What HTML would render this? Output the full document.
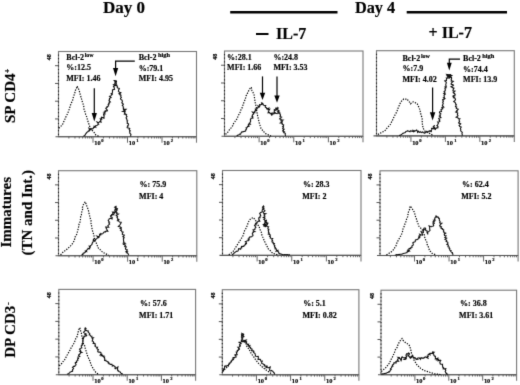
<!DOCTYPE html><html><head><meta charset="utf-8"><style>html,body{margin:0;padding:0;background:#fff;}svg{display:block;} text{stroke:#000;stroke-width:0.18px;paint-order:stroke;}</style></head><body><svg width="520" height="385" viewBox="0 0 520 385">
<defs><filter id="bl" color-interpolation-filters="sRGB" x="0" y="0" width="520" height="385" filterUnits="userSpaceOnUse"><feConvolveMatrix order="3" kernelMatrix="0.0113 0.0838 0.0113 0.0838 0.6193 0.0838 0.0113 0.0838 0.0113" divisor="1" edgeMode="none"/></filter></defs>
<rect width="520" height="385" fill="#fff"/>
<g filter="url(#bl)">
<g font-family='"Liberation Serif", serif' fill="#000">
<text x="123.9" y="13" font-size="17" font-weight="bold" text-anchor="middle">Day 0</text>
<text x="375.1" y="12.6" font-size="16.3" font-weight="bold" text-anchor="middle">Day 4</text>
<rect x="256" y="33" width="12.5" height="2" fill="#000"/>
<text x="276" y="39.2" font-size="16" font-weight="bold">IL-7</text>
<text x="428.6" y="38" font-size="16" font-weight="bold">+ IL-7</text>
<text x="0" y="0" font-size="14.5" font-weight="bold" text-anchor="middle" transform="translate(14.5 95.8) rotate(-90) scale(1.035 1)">SP CD4<tspan font-size="8" dy="-4.6" dx="0.3">+</tspan></text>
<text x="0" y="0" font-size="14.5" font-weight="bold" text-anchor="middle" transform="translate(11.2 212.3) rotate(-90) scale(1.035 1)">Immatures</text>
<text x="0" y="0" font-size="14.5" font-weight="bold" text-anchor="middle" transform="translate(32.2 212.8) rotate(-90) scale(1.035 1)">(TN and Int.)</text>
<text x="0" y="0" font-size="14.5" font-weight="bold" text-anchor="middle" transform="translate(15.2 330) rotate(-90) scale(1.035 1)">DP CD3<tspan font-size="8" dy="-4.6" dx="0.8">-</tspan></text>
</g>
<line x1="230.2" y1="12.2" x2="337.5" y2="12.2" stroke="#000" stroke-width="2.4"/>
<line x1="406.7" y1="12.2" x2="507" y2="12.2" stroke="#000" stroke-width="2.4"/>
<g><rect x="58.5" y="51.5" width="138.00" height="85.20" fill="none" stroke="#777" stroke-width="1.1"/><line x1="58.5" y1="54.5" x2="58.5" y2="136.7" stroke="#222" stroke-width="1.1" stroke-dasharray="1.2 2.4"/><line x1="55.5" y1="136.7" x2="196.5" y2="136.7" stroke="#555" stroke-width="1.1"/><line x1="196.5" y1="136.7" x2="196.5" y2="142.7" stroke="#777" stroke-width="1.1"/><line x1="68.89" y1="136.7" x2="68.89" y2="138.5" stroke="#555" stroke-width="0.9"/><line x1="74.96" y1="136.7" x2="74.96" y2="138.5" stroke="#555" stroke-width="0.9"/><line x1="79.27" y1="136.7" x2="79.27" y2="138.5" stroke="#555" stroke-width="0.9"/><line x1="82.61" y1="136.7" x2="82.61" y2="138.5" stroke="#555" stroke-width="0.9"/><line x1="85.35" y1="136.7" x2="85.35" y2="138.5" stroke="#555" stroke-width="0.9"/><line x1="87.66" y1="136.7" x2="87.66" y2="138.5" stroke="#555" stroke-width="0.9"/><line x1="89.66" y1="136.7" x2="89.66" y2="138.5" stroke="#555" stroke-width="0.9"/><line x1="91.42" y1="136.7" x2="91.42" y2="138.5" stroke="#555" stroke-width="0.9"/><line x1="103.39" y1="136.7" x2="103.39" y2="138.5" stroke="#555" stroke-width="0.9"/><line x1="109.46" y1="136.7" x2="109.46" y2="138.5" stroke="#555" stroke-width="0.9"/><line x1="113.77" y1="136.7" x2="113.77" y2="138.5" stroke="#555" stroke-width="0.9"/><line x1="117.11" y1="136.7" x2="117.11" y2="138.5" stroke="#555" stroke-width="0.9"/><line x1="119.85" y1="136.7" x2="119.85" y2="138.5" stroke="#555" stroke-width="0.9"/><line x1="122.16" y1="136.7" x2="122.16" y2="138.5" stroke="#555" stroke-width="0.9"/><line x1="124.16" y1="136.7" x2="124.16" y2="138.5" stroke="#555" stroke-width="0.9"/><line x1="125.92" y1="136.7" x2="125.92" y2="138.5" stroke="#555" stroke-width="0.9"/><line x1="137.89" y1="136.7" x2="137.89" y2="138.5" stroke="#555" stroke-width="0.9"/><line x1="143.96" y1="136.7" x2="143.96" y2="138.5" stroke="#555" stroke-width="0.9"/><line x1="148.27" y1="136.7" x2="148.27" y2="138.5" stroke="#555" stroke-width="0.9"/><line x1="151.61" y1="136.7" x2="151.61" y2="138.5" stroke="#555" stroke-width="0.9"/><line x1="154.35" y1="136.7" x2="154.35" y2="138.5" stroke="#555" stroke-width="0.9"/><line x1="156.66" y1="136.7" x2="156.66" y2="138.5" stroke="#555" stroke-width="0.9"/><line x1="158.66" y1="136.7" x2="158.66" y2="138.5" stroke="#555" stroke-width="0.9"/><line x1="160.42" y1="136.7" x2="160.42" y2="138.5" stroke="#555" stroke-width="0.9"/><line x1="172.39" y1="136.7" x2="172.39" y2="138.5" stroke="#555" stroke-width="0.9"/><line x1="178.46" y1="136.7" x2="178.46" y2="138.5" stroke="#555" stroke-width="0.9"/><line x1="182.77" y1="136.7" x2="182.77" y2="138.5" stroke="#555" stroke-width="0.9"/><line x1="186.11" y1="136.7" x2="186.11" y2="138.5" stroke="#555" stroke-width="0.9"/><line x1="188.85" y1="136.7" x2="188.85" y2="138.5" stroke="#555" stroke-width="0.9"/><line x1="191.16" y1="136.7" x2="191.16" y2="138.5" stroke="#555" stroke-width="0.9"/><line x1="193.16" y1="136.7" x2="193.16" y2="138.5" stroke="#555" stroke-width="0.9"/><line x1="194.92" y1="136.7" x2="194.92" y2="138.5" stroke="#555" stroke-width="0.9"/><line x1="93.00" y1="136.7" x2="93.00" y2="142.7" stroke="#666" stroke-width="1"/><text x="94.20" y="145.30" font-size="6.4" font-weight="bold" font-family='"Liberation Serif", serif'>10<tspan font-size="4.6" dy="-3" dx="0.6">0</tspan></text><line x1="127.50" y1="136.7" x2="127.50" y2="142.7" stroke="#666" stroke-width="1"/><text x="128.70" y="145.30" font-size="6.4" font-weight="bold" font-family='"Liberation Serif", serif'>10<tspan font-size="4.6" dy="-3" dx="1.2">1</tspan></text><line x1="162.00" y1="136.7" x2="162.00" y2="142.7" stroke="#666" stroke-width="1"/><text x="163.20" y="145.30" font-size="6.4" font-weight="bold" font-family='"Liberation Serif", serif'>10<tspan font-size="4.6" dy="-3" dx="1.2">2</tspan></text><line x1="55.0" y1="118.95" x2="58.5" y2="118.95" stroke="#555" stroke-width="1"/><line x1="55.0" y1="101.20" x2="58.5" y2="101.20" stroke="#555" stroke-width="1"/><line x1="55.0" y1="83.45" x2="58.5" y2="83.45" stroke="#555" stroke-width="1"/><line x1="55.0" y1="65.70" x2="58.5" y2="65.70" stroke="#555" stroke-width="1"/><text x="51.0" y="57.3" font-size="6" font-weight="bold" text-anchor="middle" font-family='"Liberation Serif", serif' transform="rotate(-90 51.0 57.3)">48</text><polyline points="58.75,128.17 60.22,127.00 61.47,125.61 62.67,124.18 63.34,122.43 64.26,120.81 64.97,119.07 65.66,117.36 66.52,115.79 67.27,114.16 68.05,112.55 68.52,110.81 69.24,109.18 69.81,107.54 70.13,105.81 70.90,104.23 71.53,102.61 72.46,101.09 72.84,99.37 73.20,97.67 73.85,96.06 74.26,94.37 74.83,92.73 75.15,91.02 75.89,89.36 76.76,87.75 77.09,86.08 77.84,87.72 78.75,89.29 79.28,91.01 79.78,92.67 80.17,94.36 80.70,96.01 81.07,97.71 81.69,99.33 82.13,100.97 82.48,102.64 83.16,104.22 83.59,105.87 84.03,107.51 84.04,109.28 84.69,110.89 85.13,112.57 85.61,114.24 86.25,115.85 87.04,117.43 87.26,119.19 87.85,120.85 88.20,122.57 88.97,124.17 89.44,125.81 90.29,127.64 91.23,129.41 92.65,130.86 93.85,132.14 94.86,133.59 95.89,135.01 97.55,135.71 99.20,136.40" fill="none" stroke="#000" stroke-width="1.2" stroke-dasharray="1.3 1.3"/><polyline points="83.45,136.46 83.86,135.98 84.34,135.59 84.79,135.16 85.35,134.86 85.46,134.06 85.96,133.69 86.34,133.18 86.65,132.61 87.10,132.17 87.63,131.84 88.19,131.52 88.41,130.86 89.34,130.95 89.61,130.28 89.05,128.38 90.87,129.98 91.17,129.35 91.48,128.74 92.31,128.87 92.89,128.65 93.35,128.25 93.49,127.39 94.28,127.47 94.23,126.26 95.79,127.18 95.56,125.73 96.30,125.57 97.00,125.35 97.69,125.07 97.91,124.41 98.65,124.15 97.02,122.00 98.58,122.41 99.31,122.16 99.68,121.61 101.09,121.90 100.48,120.62 101.02,120.18 100.36,118.95 101.70,119.03 101.30,117.97 101.46,117.28 103.96,118.14 104.04,117.39 103.93,116.52 104.26,115.92 103.48,114.91 103.66,114.30 104.80,114.07 103.74,112.94 105.07,112.80 104.39,111.83 105.51,111.59 105.25,110.79 107.13,110.87 107.40,110.29 106.70,109.31 105.80,108.25 106.39,107.80 107.18,107.47 106.93,106.75 107.80,106.37 108.64,105.97 108.35,105.24 108.14,104.53 108.99,104.14 108.67,103.40 109.44,102.98 109.04,102.21 110.30,101.95 109.57,101.08 108.98,100.26 109.67,99.82 109.54,99.10 109.47,98.39 110.12,97.93 111.03,97.57 109.60,96.37 110.67,96.07 111.08,95.53 111.35,94.94 112.19,94.55 111.26,93.53 112.38,93.24 112.30,92.56 112.55,91.99 112.49,91.35 112.48,90.73 112.44,90.09 113.13,89.61 114.54,89.26 114.35,88.60 114.25,87.96 114.11,87.31 113.46,86.55 114.07,86.05 115.31,85.67 113.55,84.70 114.50,84.27 114.99,83.74 114.74,83.07 115.08,82.51 115.67,82.00 116.48,81.54 116.20,80.86 113.64,80.54 114.68,80.84 114.84,81.48 115.47,81.94 115.75,82.54 116.48,82.97 116.15,83.81 115.73,84.66 116.78,84.97 116.99,85.58 116.98,86.28 117.51,86.77 117.25,87.56 117.76,88.07 118.97,88.31 119.40,88.84 118.58,89.84 118.56,90.55 118.38,91.21 118.97,91.68 119.27,92.23 120.63,92.52 119.20,93.50 120.38,93.83 119.56,94.66 120.84,94.96 121.01,95.55 120.64,96.27 121.00,96.80 121.39,97.33 120.57,98.16 120.57,98.78 120.86,99.34 121.52,99.79 122.14,100.26 122.20,100.85 122.38,101.43 122.24,102.12 121.81,102.89 122.41,103.34 123.11,103.77 123.34,104.34 122.31,105.29 122.85,105.77 123.08,106.34 123.25,106.93 123.23,107.58 123.63,108.09 123.21,108.86 123.44,109.39 125.96,109.38 125.07,110.23 122.91,111.40 125.11,111.47 124.95,112.14 124.39,112.90 125.03,113.37 124.45,114.14 126.07,114.36 126.65,114.84 126.24,115.57 126.57,116.11 126.99,116.63 126.16,117.46 126.20,118.07 126.49,118.63 126.94,119.14 126.75,119.81 127.04,120.36 127.63,120.84 127.10,121.60 127.14,122.21 127.44,122.76 127.24,123.44 128.44,123.76 128.29,124.43 128.59,124.98 127.58,125.85 127.92,126.40 127.08,127.23 127.29,127.80 128.70,128.07 129.70,128.45 129.08,129.23 129.48,129.77 129.61,130.37 130.30,130.85 129.59,131.63 129.74,132.23 129.80,132.85 129.97,133.44 130.49,133.95 130.96,134.48 130.70,135.16 130.76,135.78 130.80,136.37" fill="none" stroke="#111" stroke-width="1.1" stroke-linejoin="miter"/><text x="66.3" y="59.7" font-size="8" font-weight="bold" font-family='"Liberation Serif", serif'>Bcl-2<tspan font-size="6.0" dy="-2.6" dx="0.6">low</tspan></text><text x="66.3" y="70.3" font-size="8" font-weight="bold" font-family='"Liberation Serif", serif'>%:12.5</text><text x="66.3" y="80.5" font-size="8" font-weight="bold" font-family='"Liberation Serif", serif'>MFI: 1.46</text><text x="138.7" y="59.5" font-size="8" font-weight="bold" font-family='"Liberation Serif", serif'>Bcl-2<tspan font-size="6.4" dy="-2.6" dx="1.4">high</tspan></text><text x="138.7" y="70.6" font-size="8" font-weight="bold" font-family='"Liberation Serif", serif'>%:79.1</text><text x="138.7" y="80.9" font-size="8" font-weight="bold" font-family='"Liberation Serif", serif'>MFI: 4.95</text><polyline points="94.30,88.20 94.30,114.00" fill="none" stroke="#000" stroke-width="1.2"/><polygon points="91.70,113.00 96.90,113.00 94.30,121.40" fill="#000"/><polyline points="134.80,61.20 115.60,61.20 115.60,69.00" fill="none" stroke="#000" stroke-width="1.2"/><polygon points="113.00,68.00 118.20,68.00 115.60,76.30" fill="#000"/></g>
<g><rect x="224.5" y="51.0" width="138.50" height="85.30" fill="none" stroke="#777" stroke-width="1.1"/><line x1="224.5" y1="54.0" x2="224.5" y2="136.3" stroke="#222" stroke-width="1.1" stroke-dasharray="1.2 2.4"/><line x1="221.5" y1="136.3" x2="363.0" y2="136.3" stroke="#555" stroke-width="1.1"/><line x1="363.0" y1="136.3" x2="363.0" y2="142.3" stroke="#777" stroke-width="1.1"/><line x1="234.92" y1="136.3" x2="234.92" y2="138.10000000000002" stroke="#555" stroke-width="0.9"/><line x1="241.02" y1="136.3" x2="241.02" y2="138.10000000000002" stroke="#555" stroke-width="0.9"/><line x1="245.35" y1="136.3" x2="245.35" y2="138.10000000000002" stroke="#555" stroke-width="0.9"/><line x1="248.70" y1="136.3" x2="248.70" y2="138.10000000000002" stroke="#555" stroke-width="0.9"/><line x1="251.44" y1="136.3" x2="251.44" y2="138.10000000000002" stroke="#555" stroke-width="0.9"/><line x1="253.76" y1="136.3" x2="253.76" y2="138.10000000000002" stroke="#555" stroke-width="0.9"/><line x1="255.77" y1="136.3" x2="255.77" y2="138.10000000000002" stroke="#555" stroke-width="0.9"/><line x1="257.54" y1="136.3" x2="257.54" y2="138.10000000000002" stroke="#555" stroke-width="0.9"/><line x1="269.55" y1="136.3" x2="269.55" y2="138.10000000000002" stroke="#555" stroke-width="0.9"/><line x1="275.65" y1="136.3" x2="275.65" y2="138.10000000000002" stroke="#555" stroke-width="0.9"/><line x1="279.97" y1="136.3" x2="279.97" y2="138.10000000000002" stroke="#555" stroke-width="0.9"/><line x1="283.33" y1="136.3" x2="283.33" y2="138.10000000000002" stroke="#555" stroke-width="0.9"/><line x1="286.07" y1="136.3" x2="286.07" y2="138.10000000000002" stroke="#555" stroke-width="0.9"/><line x1="288.39" y1="136.3" x2="288.39" y2="138.10000000000002" stroke="#555" stroke-width="0.9"/><line x1="290.39" y1="136.3" x2="290.39" y2="138.10000000000002" stroke="#555" stroke-width="0.9"/><line x1="292.17" y1="136.3" x2="292.17" y2="138.10000000000002" stroke="#555" stroke-width="0.9"/><line x1="304.17" y1="136.3" x2="304.17" y2="138.10000000000002" stroke="#555" stroke-width="0.9"/><line x1="310.27" y1="136.3" x2="310.27" y2="138.10000000000002" stroke="#555" stroke-width="0.9"/><line x1="314.60" y1="136.3" x2="314.60" y2="138.10000000000002" stroke="#555" stroke-width="0.9"/><line x1="317.95" y1="136.3" x2="317.95" y2="138.10000000000002" stroke="#555" stroke-width="0.9"/><line x1="320.69" y1="136.3" x2="320.69" y2="138.10000000000002" stroke="#555" stroke-width="0.9"/><line x1="323.01" y1="136.3" x2="323.01" y2="138.10000000000002" stroke="#555" stroke-width="0.9"/><line x1="325.02" y1="136.3" x2="325.02" y2="138.10000000000002" stroke="#555" stroke-width="0.9"/><line x1="326.79" y1="136.3" x2="326.79" y2="138.10000000000002" stroke="#555" stroke-width="0.9"/><line x1="338.80" y1="136.3" x2="338.80" y2="138.10000000000002" stroke="#555" stroke-width="0.9"/><line x1="344.90" y1="136.3" x2="344.90" y2="138.10000000000002" stroke="#555" stroke-width="0.9"/><line x1="349.22" y1="136.3" x2="349.22" y2="138.10000000000002" stroke="#555" stroke-width="0.9"/><line x1="352.58" y1="136.3" x2="352.58" y2="138.10000000000002" stroke="#555" stroke-width="0.9"/><line x1="355.32" y1="136.3" x2="355.32" y2="138.10000000000002" stroke="#555" stroke-width="0.9"/><line x1="357.64" y1="136.3" x2="357.64" y2="138.10000000000002" stroke="#555" stroke-width="0.9"/><line x1="359.64" y1="136.3" x2="359.64" y2="138.10000000000002" stroke="#555" stroke-width="0.9"/><line x1="361.42" y1="136.3" x2="361.42" y2="138.10000000000002" stroke="#555" stroke-width="0.9"/><line x1="259.12" y1="136.3" x2="259.12" y2="142.3" stroke="#666" stroke-width="1"/><text x="260.32" y="144.90" font-size="6.4" font-weight="bold" font-family='"Liberation Serif", serif'>10<tspan font-size="4.6" dy="-3" dx="0.6">0</tspan></text><line x1="293.75" y1="136.3" x2="293.75" y2="142.3" stroke="#666" stroke-width="1"/><text x="294.95" y="144.90" font-size="6.4" font-weight="bold" font-family='"Liberation Serif", serif'>10<tspan font-size="4.6" dy="-3" dx="1.2">1</tspan></text><line x1="328.38" y1="136.3" x2="328.38" y2="142.3" stroke="#666" stroke-width="1"/><text x="329.57" y="144.90" font-size="6.4" font-weight="bold" font-family='"Liberation Serif", serif'>10<tspan font-size="4.6" dy="-3" dx="1.2">2</tspan></text><line x1="221.0" y1="118.53" x2="224.5" y2="118.53" stroke="#555" stroke-width="1"/><line x1="221.0" y1="100.76" x2="224.5" y2="100.76" stroke="#555" stroke-width="1"/><line x1="221.0" y1="82.99" x2="224.5" y2="82.99" stroke="#555" stroke-width="1"/><line x1="221.0" y1="65.22" x2="224.5" y2="65.22" stroke="#555" stroke-width="1"/><text x="217.0" y="56.8" font-size="6" font-weight="bold" text-anchor="middle" font-family='"Liberation Serif", serif' transform="rotate(-90 217.0 56.8)">48</text><polyline points="225.55,134.46 226.66,133.23 227.84,132.05 228.83,130.71 229.74,129.30 230.89,128.13 231.80,126.90 232.74,125.67 233.26,124.20 233.90,122.80 234.91,121.62 235.78,120.35 236.77,119.14 237.48,117.80 238.00,116.37 238.58,114.96 239.66,113.81 240.10,112.33 240.58,110.88 241.11,109.45 241.91,108.17 242.49,106.64 242.96,105.06 243.50,103.51 244.08,101.98 244.70,100.46 245.33,98.94 245.75,97.38 246.13,95.74 247.09,94.38 247.60,92.81 248.42,91.39 249.02,89.82 250.01,88.56 251.20,87.21 251.77,88.85 251.91,90.67 252.86,92.13 253.53,93.65 254.15,95.14 254.41,96.70 254.50,98.28 254.81,99.83 255.01,101.40 255.29,102.95 255.75,104.47 255.89,106.12 256.35,107.70 256.28,109.38 256.80,110.95 257.02,112.58 257.40,114.18 257.58,115.82 258.09,117.39 258.23,119.05 258.77,120.55 259.02,122.14 259.47,123.66 260.00,125.17 260.63,126.65 260.92,128.27 262.05,129.64 263.06,131.11 264.39,132.30 265.57,133.66 267.38,134.45 269.19,135.22 271.00,136.01" fill="none" stroke="#000" stroke-width="1.2" stroke-dasharray="1.3 1.3"/><polyline points="236.48,135.96 237.04,135.66 237.58,135.31 238.11,134.94 238.77,134.80 239.28,134.41 239.78,133.98 240.61,134.12 240.90,133.37 241.22,132.64 241.47,132.24 242.06,131.90 242.98,131.85 243.67,131.60 244.35,131.34 245.26,131.27 245.74,130.85 245.66,129.92 246.27,129.60 246.42,128.87 246.15,127.78 247.07,127.73 247.25,127.04 247.47,126.38 249.00,126.41 248.90,125.67 248.31,124.69 248.56,124.12 250.29,124.24 249.43,123.13 249.96,122.69 250.24,122.12 250.44,121.52 250.74,120.97 250.37,120.09 250.45,119.44 250.86,118.93 251.06,118.33 252.02,118.12 252.95,117.90 251.97,116.70 252.73,116.39 252.25,115.44 252.47,114.86 253.01,114.43 253.58,114.02 253.62,113.35 252.53,112.09 254.80,112.55 254.69,111.79 254.74,111.04 255.75,110.93 255.60,110.04 255.35,109.07 256.61,109.14 257.20,108.75 256.95,107.78 258.05,107.75 258.39,107.18 258.03,105.93 259.56,106.80 259.75,105.99 259.58,104.72 260.55,104.89 261.06,104.48 261.93,104.51 261.57,103.02 262.83,103.53 262.34,103.21 262.79,103.67 263.24,104.13 263.27,104.91 263.87,105.26 264.64,105.49 265.66,105.52 265.20,106.68 265.40,107.33 266.07,107.57 266.60,108.02 266.68,108.75 268.80,108.21 268.06,109.45 269.70,109.21 268.87,110.51 268.40,111.58 268.08,112.69 269.55,112.43 269.77,113.08 270.38,113.44 272.00,113.07 271.15,114.50 271.57,115.00 272.08,115.54 271.75,114.70 272.39,114.33 272.84,113.87 273.89,113.70 273.80,112.97 275.90,113.32 274.35,111.88 274.17,111.10 274.43,110.55 274.34,109.63 275.79,110.20 276.14,109.63 275.68,108.21 276.51,108.14 277.58,108.31 278.15,107.08 277.76,107.86 278.03,108.42 276.60,109.55 277.53,109.89 278.47,110.23 278.99,110.70 277.71,111.78 278.97,112.01 277.72,113.07 279.94,112.99 279.87,113.66 280.01,114.26 280.49,114.76 280.46,115.45 279.92,116.19 280.74,116.65 281.59,117.10 280.10,118.05 279.66,118.78 281.04,119.11 280.89,119.78 282.83,120.00 281.12,120.99 282.26,121.38 282.18,122.03 280.46,123.03 282.29,123.27 282.08,123.95 282.83,124.42 283.66,124.88 283.54,125.53 282.65,126.36 283.52,126.80 283.39,127.46 282.59,128.31 283.09,128.81 284.11,129.12 282.78,130.26 283.42,130.71 283.07,131.50 284.39,131.71 283.70,132.63 284.85,132.90 285.33,133.41 285.19,134.13 285.28,134.77 285.38,135.40 285.60,135.98" fill="none" stroke="#111" stroke-width="1.1" stroke-linejoin="miter"/><text x="227.1" y="60.0" font-size="8" font-weight="bold" font-family='"Liberation Serif", serif'>%:28.1</text><text x="227.1" y="70.0" font-size="8" font-weight="bold" font-family='"Liberation Serif", serif'>MFI: 1.66</text><text x="273.4" y="60.0" font-size="8" font-weight="bold" font-family='"Liberation Serif", serif'>%:24.8</text><text x="273.4" y="70.0" font-size="8" font-weight="bold" font-family='"Liberation Serif", serif'>MFI: 3.53</text><polyline points="262.50,76.40 262.50,93.50" fill="none" stroke="#000" stroke-width="1.2"/><polygon points="259.80,92.70 265.20,92.70 262.50,100.00" fill="#000"/><polyline points="277.00,76.40 277.00,96.00" fill="none" stroke="#000" stroke-width="1.2"/><polygon points="274.30,95.50 279.70,95.50 277.00,102.70" fill="#000"/></g>
<g><rect x="376.5" y="50.7" width="137.80" height="85.20" fill="none" stroke="#777" stroke-width="1.1"/><line x1="376.5" y1="53.7" x2="376.5" y2="135.9" stroke="#222" stroke-width="1.1" stroke-dasharray="1.2 2.4"/><line x1="373.5" y1="135.9" x2="514.3" y2="135.9" stroke="#555" stroke-width="1.1"/><line x1="514.3" y1="135.9" x2="514.3" y2="141.9" stroke="#777" stroke-width="1.1"/><line x1="386.87" y1="135.9" x2="386.87" y2="137.70000000000002" stroke="#555" stroke-width="0.9"/><line x1="392.94" y1="135.9" x2="392.94" y2="137.70000000000002" stroke="#555" stroke-width="0.9"/><line x1="397.24" y1="135.9" x2="397.24" y2="137.70000000000002" stroke="#555" stroke-width="0.9"/><line x1="400.58" y1="135.9" x2="400.58" y2="137.70000000000002" stroke="#555" stroke-width="0.9"/><line x1="403.31" y1="135.9" x2="403.31" y2="137.70000000000002" stroke="#555" stroke-width="0.9"/><line x1="405.61" y1="135.9" x2="405.61" y2="137.70000000000002" stroke="#555" stroke-width="0.9"/><line x1="407.61" y1="135.9" x2="407.61" y2="137.70000000000002" stroke="#555" stroke-width="0.9"/><line x1="409.37" y1="135.9" x2="409.37" y2="137.70000000000002" stroke="#555" stroke-width="0.9"/><line x1="421.32" y1="135.9" x2="421.32" y2="137.70000000000002" stroke="#555" stroke-width="0.9"/><line x1="427.39" y1="135.9" x2="427.39" y2="137.70000000000002" stroke="#555" stroke-width="0.9"/><line x1="431.69" y1="135.9" x2="431.69" y2="137.70000000000002" stroke="#555" stroke-width="0.9"/><line x1="435.03" y1="135.9" x2="435.03" y2="137.70000000000002" stroke="#555" stroke-width="0.9"/><line x1="437.76" y1="135.9" x2="437.76" y2="137.70000000000002" stroke="#555" stroke-width="0.9"/><line x1="440.06" y1="135.9" x2="440.06" y2="137.70000000000002" stroke="#555" stroke-width="0.9"/><line x1="442.06" y1="135.9" x2="442.06" y2="137.70000000000002" stroke="#555" stroke-width="0.9"/><line x1="443.82" y1="135.9" x2="443.82" y2="137.70000000000002" stroke="#555" stroke-width="0.9"/><line x1="455.77" y1="135.9" x2="455.77" y2="137.70000000000002" stroke="#555" stroke-width="0.9"/><line x1="461.84" y1="135.9" x2="461.84" y2="137.70000000000002" stroke="#555" stroke-width="0.9"/><line x1="466.14" y1="135.9" x2="466.14" y2="137.70000000000002" stroke="#555" stroke-width="0.9"/><line x1="469.48" y1="135.9" x2="469.48" y2="137.70000000000002" stroke="#555" stroke-width="0.9"/><line x1="472.21" y1="135.9" x2="472.21" y2="137.70000000000002" stroke="#555" stroke-width="0.9"/><line x1="474.51" y1="135.9" x2="474.51" y2="137.70000000000002" stroke="#555" stroke-width="0.9"/><line x1="476.51" y1="135.9" x2="476.51" y2="137.70000000000002" stroke="#555" stroke-width="0.9"/><line x1="478.27" y1="135.9" x2="478.27" y2="137.70000000000002" stroke="#555" stroke-width="0.9"/><line x1="490.22" y1="135.9" x2="490.22" y2="137.70000000000002" stroke="#555" stroke-width="0.9"/><line x1="496.29" y1="135.9" x2="496.29" y2="137.70000000000002" stroke="#555" stroke-width="0.9"/><line x1="500.59" y1="135.9" x2="500.59" y2="137.70000000000002" stroke="#555" stroke-width="0.9"/><line x1="503.93" y1="135.9" x2="503.93" y2="137.70000000000002" stroke="#555" stroke-width="0.9"/><line x1="506.66" y1="135.9" x2="506.66" y2="137.70000000000002" stroke="#555" stroke-width="0.9"/><line x1="508.96" y1="135.9" x2="508.96" y2="137.70000000000002" stroke="#555" stroke-width="0.9"/><line x1="510.96" y1="135.9" x2="510.96" y2="137.70000000000002" stroke="#555" stroke-width="0.9"/><line x1="512.72" y1="135.9" x2="512.72" y2="137.70000000000002" stroke="#555" stroke-width="0.9"/><line x1="410.95" y1="135.9" x2="410.95" y2="141.9" stroke="#666" stroke-width="1"/><text x="412.15" y="144.50" font-size="6.4" font-weight="bold" font-family='"Liberation Serif", serif'>10<tspan font-size="4.6" dy="-3" dx="0.6">0</tspan></text><line x1="445.40" y1="135.9" x2="445.40" y2="141.9" stroke="#666" stroke-width="1"/><text x="446.60" y="144.50" font-size="6.4" font-weight="bold" font-family='"Liberation Serif", serif'>10<tspan font-size="4.6" dy="-3" dx="1.2">1</tspan></text><line x1="479.85" y1="135.9" x2="479.85" y2="141.9" stroke="#666" stroke-width="1"/><text x="481.05" y="144.50" font-size="6.4" font-weight="bold" font-family='"Liberation Serif", serif'>10<tspan font-size="4.6" dy="-3" dx="1.2">2</tspan></text><polyline points="377.82,134.43 379.30,133.77 380.70,132.96 382.11,132.15 383.60,131.50 384.95,130.56 386.08,129.38 387.02,128.02 388.12,126.82 389.32,125.76 390.27,124.50 390.98,123.11 391.66,121.71 392.40,120.34 393.21,119.00 393.73,117.52 394.42,116.11 395.12,114.71 396.01,113.39 396.50,111.89 397.22,110.50 397.61,108.93 398.42,107.55 399.04,106.09 399.57,104.58 400.23,103.14 401.01,101.81 402.37,100.27 403.80,98.99 405.75,99.16 407.30,99.03 408.18,100.69 409.53,102.09 410.55,103.77 411.91,102.64 413.34,101.82 415.31,102.78 417.22,103.73 417.91,105.43 418.78,107.04 419.47,108.73 420.31,110.38 420.20,112.06 420.72,113.61 421.05,115.21 421.67,116.75 422.08,118.33 422.33,119.96 422.22,121.54 422.27,123.10 422.48,124.64 422.84,126.15 422.73,127.84 424.02,129.59 425.04,131.40 426.60,132.18 428.23,132.76 429.80,133.49 431.68,134.53 433.60,135.50" fill="none" stroke="#000" stroke-width="1.2" stroke-dasharray="1.3 1.3"/><polyline points="399.01,135.62 399.58,135.29 400.33,135.30 400.84,134.86 401.38,134.46 401.96,134.17 402.44,133.67 402.95,133.22 403.68,133.20 404.16,132.70 404.86,132.77 405.43,132.36 405.90,131.47 406.52,131.26 407.19,131.29 407.71,130.65 408.51,131.25 409.17,131.22 409.96,131.75 410.46,130.86 411.07,130.89 411.73,131.30 412.36,131.47 412.85,130.46 413.59,131.58 414.08,130.61 414.78,131.35 415.30,130.62 415.96,130.47 416.67,130.03 417.19,130.63 417.52,132.28 418.36,131.18 418.82,132.09 419.42,132.31 420.18,131.57 420.69,132.22 421.26,132.63 422.07,132.10 422.78,131.97 423.26,132.73 424.05,132.75 424.79,133.31 425.30,132.72 425.73,131.78 426.37,131.87 426.88,131.29 427.64,131.93 428.28,132.02 428.78,131.42 429.23,130.85 430.06,131.47 430.51,130.86 431.33,131.44 431.34,130.46 431.64,129.88 431.73,129.23 431.61,128.48 434.18,128.80 434.44,128.21 433.19,127.02 433.90,126.61 434.57,125.32 433.38,126.59 433.31,127.30 434.38,127.45 434.89,127.87 434.86,128.56 434.91,129.22 435.40,129.50 435.56,128.67 436.25,128.38 436.72,127.88 437.92,127.80 437.84,127.14 438.02,126.54 436.89,125.63 437.52,125.14 437.80,124.57 437.91,123.95 438.32,123.41 438.42,122.79 437.72,121.98 439.29,121.72 439.85,121.22 439.14,120.41 439.81,119.93 439.06,119.10 438.71,118.38 439.43,117.91 440.94,117.64 440.38,116.86 439.33,116.02 440.30,115.59 440.11,114.94 440.03,114.31 440.82,113.85 439.70,113.02 439.41,112.35 439.63,111.78 441.52,111.52 441.49,110.90 441.08,110.21 440.98,109.58 441.95,109.15 442.73,108.68 441.68,107.87 442.13,107.34 443.78,107.04 443.15,106.31 442.40,105.56 442.71,105.00 442.72,104.39 443.19,103.86 443.19,103.25 442.69,102.54 442.88,101.97 443.35,101.44 442.84,100.74 443.28,100.20 442.80,99.51 444.21,99.13 444.92,98.64 443.53,97.79 444.37,97.32 444.22,96.68 444.20,96.06 444.02,95.42 444.40,94.87 445.09,94.37 443.83,93.55 445.06,93.14 444.62,92.45 443.99,91.73 444.59,91.22 445.31,90.73 445.10,90.08 445.37,89.51 445.09,88.85 444.93,88.21 446.02,87.78 445.08,87.01 446.20,86.58 446.15,85.96 445.78,85.29 445.78,84.67 445.80,84.06 446.05,83.49 446.21,82.90 446.28,82.30 445.16,81.46 444.79,80.77 446.43,80.48 446.34,79.84 446.44,79.25 446.83,78.71 446.39,78.00 448.14,77.73 447.70,77.03 447.53,76.38 446.97,75.65 448.20,75.27 448.54,74.73 446.81,74.45 447.24,74.94 448.63,75.07 449.49,75.40 448.19,76.54 449.27,76.78 449.38,77.39 449.41,77.97 450.01,77.51 450.34,76.98 449.50,76.11 449.63,75.51 449.06,74.72 450.47,74.50 450.65,75.09 451.82,75.52 450.37,76.36 450.70,76.93 451.56,77.41 451.48,78.03 451.64,78.62 451.28,79.29 451.17,79.93 451.73,80.45 451.29,81.14 453.27,81.44 452.40,82.19 451.53,82.94 451.13,83.65 451.20,84.27 452.55,84.64 453.47,85.10 452.92,85.84 451.07,86.83 451.96,87.29 452.98,87.73 454.00,88.17 453.16,88.97 453.39,89.56 452.90,90.28 453.04,90.89 454.87,91.18 454.01,91.98 453.22,92.76 453.99,93.25 454.71,93.74 454.99,94.33 455.26,94.91 453.06,95.96 453.00,96.60 454.43,96.97 453.61,97.76 455.08,98.11 455.25,98.72 455.52,99.28 455.30,99.93 454.74,100.65 453.73,101.45 454.38,101.95 455.22,102.40 455.37,102.99 455.75,103.53 455.54,104.18 456.39,104.63 455.97,105.33 455.79,105.97 455.48,106.64 456.66,107.04 456.25,107.73 456.30,108.33 457.13,108.79 458.23,109.19 457.69,109.91 456.65,110.72 457.19,111.23 455.72,112.12 456.50,112.59 457.67,112.98 457.69,113.59 457.40,114.26 457.39,114.90 457.96,115.43 457.75,116.11 456.11,117.09 457.07,117.53 457.95,117.99 458.72,118.47 459.92,118.86 459.06,119.68 459.29,120.27 459.20,120.93 459.60,121.49 458.93,122.27 458.61,122.97 459.79,123.37 460.68,123.82 459.91,124.62 459.06,125.44 459.54,125.98 459.73,126.58 461.12,126.93 461.06,127.56 460.42,128.37 460.47,129.00 460.84,129.55 460.70,130.24 460.65,130.89 461.20,131.40 461.81,131.89 462.29,132.42 461.95,133.15 462.09,133.76 462.23,134.38 462.24,135.02 462.50,135.59" fill="none" stroke="#111" stroke-width="1.1" stroke-linejoin="miter"/><text x="402.5" y="61.0" font-size="8" font-weight="bold" font-family='"Liberation Serif", serif'>Bcl-2<tspan font-size="6.0" dy="-2.6" dx="0.6">low</tspan></text><text x="402.5" y="71.4" font-size="8" font-weight="bold" font-family='"Liberation Serif", serif'>%:7.9</text><text x="402.5" y="81.7" font-size="8" font-weight="bold" font-family='"Liberation Serif", serif'>MFI: 4.02</text><text x="463.1" y="60.9" font-size="8" font-weight="bold" font-family='"Liberation Serif", serif'>Bcl-2<tspan font-size="6.4" dy="-2.6" dx="1.4">high</tspan></text><text x="463.1" y="71.7" font-size="8" font-weight="bold" font-family='"Liberation Serif", serif'>%:74.4</text><text x="463.1" y="82.4" font-size="8" font-weight="bold" font-family='"Liberation Serif", serif'>MFI: 13.9</text><polyline points="432.60,87.50 432.60,113.00" fill="none" stroke="#000" stroke-width="1.2"/><polygon points="429.90,112.30 435.30,112.30 432.60,120.40" fill="#000"/><polyline points="460.00,59.10 449.30,59.10 449.30,63.50" fill="none" stroke="#000" stroke-width="1.2"/><polygon points="446.90,62.80 451.70,62.80 449.30,70.60" fill="#000"/></g>
<g><rect x="58.5" y="170.7" width="138.30" height="85.00" fill="none" stroke="#777" stroke-width="1.1"/><line x1="58.5" y1="173.7" x2="58.5" y2="255.7" stroke="#222" stroke-width="1.1" stroke-dasharray="1.2 2.4"/><line x1="55.5" y1="255.7" x2="196.8" y2="255.7" stroke="#555" stroke-width="1.1"/><line x1="196.8" y1="255.7" x2="196.8" y2="261.7" stroke="#777" stroke-width="1.1"/><line x1="68.91" y1="255.7" x2="68.91" y2="257.5" stroke="#555" stroke-width="0.9"/><line x1="75.00" y1="255.7" x2="75.00" y2="257.5" stroke="#555" stroke-width="0.9"/><line x1="79.32" y1="255.7" x2="79.32" y2="257.5" stroke="#555" stroke-width="0.9"/><line x1="82.67" y1="255.7" x2="82.67" y2="257.5" stroke="#555" stroke-width="0.9"/><line x1="85.40" y1="255.7" x2="85.40" y2="257.5" stroke="#555" stroke-width="0.9"/><line x1="87.72" y1="255.7" x2="87.72" y2="257.5" stroke="#555" stroke-width="0.9"/><line x1="89.72" y1="255.7" x2="89.72" y2="257.5" stroke="#555" stroke-width="0.9"/><line x1="91.49" y1="255.7" x2="91.49" y2="257.5" stroke="#555" stroke-width="0.9"/><line x1="103.48" y1="255.7" x2="103.48" y2="257.5" stroke="#555" stroke-width="0.9"/><line x1="109.57" y1="255.7" x2="109.57" y2="257.5" stroke="#555" stroke-width="0.9"/><line x1="113.89" y1="255.7" x2="113.89" y2="257.5" stroke="#555" stroke-width="0.9"/><line x1="117.24" y1="255.7" x2="117.24" y2="257.5" stroke="#555" stroke-width="0.9"/><line x1="119.98" y1="255.7" x2="119.98" y2="257.5" stroke="#555" stroke-width="0.9"/><line x1="122.29" y1="255.7" x2="122.29" y2="257.5" stroke="#555" stroke-width="0.9"/><line x1="124.30" y1="255.7" x2="124.30" y2="257.5" stroke="#555" stroke-width="0.9"/><line x1="126.07" y1="255.7" x2="126.07" y2="257.5" stroke="#555" stroke-width="0.9"/><line x1="138.06" y1="255.7" x2="138.06" y2="257.5" stroke="#555" stroke-width="0.9"/><line x1="144.15" y1="255.7" x2="144.15" y2="257.5" stroke="#555" stroke-width="0.9"/><line x1="148.47" y1="255.7" x2="148.47" y2="257.5" stroke="#555" stroke-width="0.9"/><line x1="151.82" y1="255.7" x2="151.82" y2="257.5" stroke="#555" stroke-width="0.9"/><line x1="154.55" y1="255.7" x2="154.55" y2="257.5" stroke="#555" stroke-width="0.9"/><line x1="156.87" y1="255.7" x2="156.87" y2="257.5" stroke="#555" stroke-width="0.9"/><line x1="158.87" y1="255.7" x2="158.87" y2="257.5" stroke="#555" stroke-width="0.9"/><line x1="160.64" y1="255.7" x2="160.64" y2="257.5" stroke="#555" stroke-width="0.9"/><line x1="172.63" y1="255.7" x2="172.63" y2="257.5" stroke="#555" stroke-width="0.9"/><line x1="178.72" y1="255.7" x2="178.72" y2="257.5" stroke="#555" stroke-width="0.9"/><line x1="183.04" y1="255.7" x2="183.04" y2="257.5" stroke="#555" stroke-width="0.9"/><line x1="186.39" y1="255.7" x2="186.39" y2="257.5" stroke="#555" stroke-width="0.9"/><line x1="189.13" y1="255.7" x2="189.13" y2="257.5" stroke="#555" stroke-width="0.9"/><line x1="191.44" y1="255.7" x2="191.44" y2="257.5" stroke="#555" stroke-width="0.9"/><line x1="193.45" y1="255.7" x2="193.45" y2="257.5" stroke="#555" stroke-width="0.9"/><line x1="195.22" y1="255.7" x2="195.22" y2="257.5" stroke="#555" stroke-width="0.9"/><line x1="93.08" y1="255.7" x2="93.08" y2="261.7" stroke="#666" stroke-width="1"/><text x="94.28" y="264.30" font-size="6.4" font-weight="bold" font-family='"Liberation Serif", serif'>10<tspan font-size="4.6" dy="-3" dx="0.6">0</tspan></text><line x1="127.65" y1="255.7" x2="127.65" y2="261.7" stroke="#666" stroke-width="1"/><text x="128.85" y="264.30" font-size="6.4" font-weight="bold" font-family='"Liberation Serif", serif'>10<tspan font-size="4.6" dy="-3" dx="1.2">1</tspan></text><line x1="162.23" y1="255.7" x2="162.23" y2="261.7" stroke="#666" stroke-width="1"/><text x="163.43" y="264.30" font-size="6.4" font-weight="bold" font-family='"Liberation Serif", serif'>10<tspan font-size="4.6" dy="-3" dx="1.2">2</tspan></text><line x1="55.0" y1="237.99" x2="58.5" y2="237.99" stroke="#555" stroke-width="1"/><line x1="55.0" y1="220.28" x2="58.5" y2="220.28" stroke="#555" stroke-width="1"/><line x1="55.0" y1="202.57" x2="58.5" y2="202.57" stroke="#555" stroke-width="1"/><line x1="55.0" y1="184.87" x2="58.5" y2="184.87" stroke="#555" stroke-width="1"/><text x="51.0" y="176.5" font-size="6" font-weight="bold" text-anchor="middle" font-family='"Liberation Serif", serif' transform="rotate(-90 51.0 176.5)">48</text><polyline points="60.51,254.81 61.91,253.41 63.23,251.91 64.57,251.05 65.82,250.07 67.08,249.08 68.23,247.90 69.57,246.91 70.77,245.71 72.05,244.22 73.08,242.53 74.19,240.90 74.56,239.37 75.15,237.93 75.29,236.32 76.38,235.07 76.94,233.61 77.32,232.05 77.85,230.53 78.08,228.94 78.50,227.39 79.00,225.86 79.02,224.21 79.82,222.75 80.05,221.21 80.41,219.69 80.44,218.11 80.69,216.58 81.39,215.14 81.49,213.57 81.72,212.03 82.15,210.53 82.70,209.06 82.41,207.44 83.13,206.03 83.40,204.57 84.39,203.28 85.16,201.77 85.98,203.66 86.59,205.59 87.21,207.11 87.84,208.64 88.34,210.20 88.84,211.76 89.07,213.62 89.52,215.42 90.10,217.19 90.37,219.02 90.91,220.55 91.37,222.09 91.02,223.77 91.55,225.29 91.54,226.91 91.98,228.45 92.36,230.01 92.67,231.59 93.26,233.09 93.75,234.62 94.08,236.20 94.46,237.75 94.65,239.36 94.74,241.08 95.83,242.35 96.69,243.75 97.20,245.31 97.86,246.80 98.50,248.40 99.85,249.33 100.93,250.52 102.12,251.60 103.36,252.58 105.11,253.55 106.93,254.37 108.70,255.30" fill="none" stroke="#000" stroke-width="1.2" stroke-dasharray="1.3 1.3"/><polyline points="81.52,255.32 81.98,254.90 82.35,254.37 83.10,254.24 83.13,253.37 83.70,253.06 84.41,252.89 84.91,252.50 85.39,252.09 85.30,251.10 86.65,251.55 86.37,250.37 86.86,249.96 87.35,249.55 87.81,249.11 88.01,248.41 89.48,248.79 89.38,247.89 90.14,247.63 89.25,246.12 90.45,246.20 90.64,245.51 91.32,245.19 91.72,244.61 92.12,244.12 92.11,243.43 92.39,242.89 92.71,242.36 93.05,241.85 93.23,241.25 93.21,240.56 93.89,240.21 93.50,239.34 93.27,239.88 93.93,240.15 94.12,240.88 95.30,240.66 95.35,240.51 95.27,239.70 95.91,239.31 96.43,238.86 96.96,238.42 97.37,237.90 98.30,237.69 97.08,236.19 99.12,236.96 99.22,235.99 99.82,235.69 99.58,234.27 100.71,234.66 100.72,233.58 101.89,234.03 102.53,233.77 103.03,233.37 103.40,232.79 103.83,232.29 104.30,231.84 105.30,232.10 105.62,231.47 106.20,231.02 107.80,231.22 107.17,230.07 106.63,228.99 105.94,227.80 105.85,226.98 107.55,227.24 108.73,227.18 108.13,226.33 107.83,225.67 108.44,225.12 108.90,224.55 109.63,224.01 109.19,223.33 108.76,222.65 109.57,222.13 108.77,221.40 108.24,220.71 108.36,220.10 108.98,219.55 109.30,218.66 109.98,218.47 110.54,218.14 112.10,218.92 112.22,217.54 110.53,216.31 110.63,215.66 111.82,215.38 111.68,214.65 113.71,214.64 112.77,213.66 112.67,212.95 113.10,212.41 113.44,211.71 113.44,212.57 114.17,212.95 114.68,213.64 114.26,212.92 112.87,212.01 114.59,211.74 116.01,211.41 114.78,210.53 114.77,209.90 115.76,209.48 115.27,208.75 115.63,208.20 115.60,207.57 116.23,207.07 115.98,206.40 114.74,207.23 115.76,207.68 116.34,208.21 117.38,208.66 116.73,209.39 117.30,209.92 116.48,210.68 116.36,211.32 114.99,212.17 116.96,212.46 117.00,213.08 116.47,213.79 118.43,214.09 117.31,214.89 116.24,215.69 117.18,216.16 117.59,216.71 116.96,217.55 117.55,218.04 117.84,218.61 117.68,219.31 118.83,219.64 117.54,220.68 118.76,220.98 119.02,221.56 119.48,222.08 121.17,222.24 121.18,222.90 120.49,223.76 120.18,224.52 119.45,225.39 118.37,226.37 119.43,226.67 120.41,227.07 121.16,227.52 120.14,228.43 121.29,228.78 121.35,229.41 120.56,230.26 121.41,230.68 121.78,231.23 121.81,231.87 123.10,232.19 122.60,232.96 122.36,233.67 122.27,234.34 122.84,234.84 124.31,235.10 123.95,235.84 122.92,236.75 123.75,237.19 124.17,237.73 123.46,238.55 123.33,239.22 123.66,239.78 123.57,240.45 123.51,241.10 123.80,241.67 124.10,242.24 123.30,243.08 125.12,243.28 123.55,244.31 124.49,244.72 125.54,245.10 125.01,245.87 124.74,246.58 126.25,246.85 125.88,247.59 125.46,248.40 125.53,249.06 126.20,249.48 127.25,249.76 127.09,250.49 126.11,251.54 127.47,251.70 126.51,252.75 127.55,253.03 127.98,253.54 128.33,254.09 128.47,254.71 128.70,255.31" fill="none" stroke="#111" stroke-width="1.1" stroke-linejoin="miter"/><text x="139.5" y="186.7" font-size="8" font-weight="bold" font-family='"Liberation Serif", serif'>%: 75.9</text><text x="139.1" y="198.6" font-size="8" font-weight="bold" font-family='"Liberation Serif", serif'>MFI: 4</text></g>
<g><rect x="222.5" y="170.5" width="138.50" height="84.90" fill="none" stroke="#777" stroke-width="1.1"/><line x1="222.5" y1="173.5" x2="222.5" y2="255.4" stroke="#222" stroke-width="1.1" stroke-dasharray="1.2 2.4"/><line x1="219.5" y1="255.4" x2="361.0" y2="255.4" stroke="#555" stroke-width="1.1"/><line x1="361.0" y1="255.4" x2="361.0" y2="261.4" stroke="#777" stroke-width="1.1"/><line x1="232.92" y1="255.4" x2="232.92" y2="257.2" stroke="#555" stroke-width="0.9"/><line x1="239.02" y1="255.4" x2="239.02" y2="257.2" stroke="#555" stroke-width="0.9"/><line x1="243.35" y1="255.4" x2="243.35" y2="257.2" stroke="#555" stroke-width="0.9"/><line x1="246.70" y1="255.4" x2="246.70" y2="257.2" stroke="#555" stroke-width="0.9"/><line x1="249.44" y1="255.4" x2="249.44" y2="257.2" stroke="#555" stroke-width="0.9"/><line x1="251.76" y1="255.4" x2="251.76" y2="257.2" stroke="#555" stroke-width="0.9"/><line x1="253.77" y1="255.4" x2="253.77" y2="257.2" stroke="#555" stroke-width="0.9"/><line x1="255.54" y1="255.4" x2="255.54" y2="257.2" stroke="#555" stroke-width="0.9"/><line x1="267.55" y1="255.4" x2="267.55" y2="257.2" stroke="#555" stroke-width="0.9"/><line x1="273.65" y1="255.4" x2="273.65" y2="257.2" stroke="#555" stroke-width="0.9"/><line x1="277.97" y1="255.4" x2="277.97" y2="257.2" stroke="#555" stroke-width="0.9"/><line x1="281.33" y1="255.4" x2="281.33" y2="257.2" stroke="#555" stroke-width="0.9"/><line x1="284.07" y1="255.4" x2="284.07" y2="257.2" stroke="#555" stroke-width="0.9"/><line x1="286.39" y1="255.4" x2="286.39" y2="257.2" stroke="#555" stroke-width="0.9"/><line x1="288.39" y1="255.4" x2="288.39" y2="257.2" stroke="#555" stroke-width="0.9"/><line x1="290.17" y1="255.4" x2="290.17" y2="257.2" stroke="#555" stroke-width="0.9"/><line x1="302.17" y1="255.4" x2="302.17" y2="257.2" stroke="#555" stroke-width="0.9"/><line x1="308.27" y1="255.4" x2="308.27" y2="257.2" stroke="#555" stroke-width="0.9"/><line x1="312.60" y1="255.4" x2="312.60" y2="257.2" stroke="#555" stroke-width="0.9"/><line x1="315.95" y1="255.4" x2="315.95" y2="257.2" stroke="#555" stroke-width="0.9"/><line x1="318.69" y1="255.4" x2="318.69" y2="257.2" stroke="#555" stroke-width="0.9"/><line x1="321.01" y1="255.4" x2="321.01" y2="257.2" stroke="#555" stroke-width="0.9"/><line x1="323.02" y1="255.4" x2="323.02" y2="257.2" stroke="#555" stroke-width="0.9"/><line x1="324.79" y1="255.4" x2="324.79" y2="257.2" stroke="#555" stroke-width="0.9"/><line x1="336.80" y1="255.4" x2="336.80" y2="257.2" stroke="#555" stroke-width="0.9"/><line x1="342.90" y1="255.4" x2="342.90" y2="257.2" stroke="#555" stroke-width="0.9"/><line x1="347.22" y1="255.4" x2="347.22" y2="257.2" stroke="#555" stroke-width="0.9"/><line x1="350.58" y1="255.4" x2="350.58" y2="257.2" stroke="#555" stroke-width="0.9"/><line x1="353.32" y1="255.4" x2="353.32" y2="257.2" stroke="#555" stroke-width="0.9"/><line x1="355.64" y1="255.4" x2="355.64" y2="257.2" stroke="#555" stroke-width="0.9"/><line x1="357.64" y1="255.4" x2="357.64" y2="257.2" stroke="#555" stroke-width="0.9"/><line x1="359.42" y1="255.4" x2="359.42" y2="257.2" stroke="#555" stroke-width="0.9"/><line x1="257.12" y1="255.4" x2="257.12" y2="261.4" stroke="#666" stroke-width="1"/><text x="258.32" y="264.00" font-size="6.4" font-weight="bold" font-family='"Liberation Serif", serif'>10<tspan font-size="4.6" dy="-3" dx="0.6">0</tspan></text><line x1="291.75" y1="255.4" x2="291.75" y2="261.4" stroke="#666" stroke-width="1"/><text x="292.95" y="264.00" font-size="6.4" font-weight="bold" font-family='"Liberation Serif", serif'>10<tspan font-size="4.6" dy="-3" dx="1.2">1</tspan></text><line x1="326.38" y1="255.4" x2="326.38" y2="261.4" stroke="#666" stroke-width="1"/><text x="327.57" y="264.00" font-size="6.4" font-weight="bold" font-family='"Liberation Serif", serif'>10<tspan font-size="4.6" dy="-3" dx="1.2">2</tspan></text><line x1="219.0" y1="237.71" x2="222.5" y2="237.71" stroke="#555" stroke-width="1"/><line x1="219.0" y1="220.03" x2="222.5" y2="220.03" stroke="#555" stroke-width="1"/><line x1="219.0" y1="202.34" x2="222.5" y2="202.34" stroke="#555" stroke-width="1"/><line x1="219.0" y1="184.65" x2="222.5" y2="184.65" stroke="#555" stroke-width="1"/><text x="215.0" y="176.3" font-size="6" font-weight="bold" text-anchor="middle" font-family='"Liberation Serif", serif' transform="rotate(-90 215.0 176.3)">48</text><polyline points="228.80,254.89 230.06,253.86 231.36,252.87 232.72,251.96 233.79,250.69 234.53,249.29 235.29,247.90 236.18,246.59 237.07,245.28 237.76,243.85 238.78,242.59 239.47,241.12 240.54,239.89 241.28,238.46 242.27,237.19 242.91,235.82 243.41,234.41 243.86,232.96 244.33,231.53 244.78,230.09 245.73,228.85 246.42,227.16 247.31,225.56 247.82,223.80 248.37,222.12 249.45,220.30 250.69,218.56 253.41,217.58 254.48,219.07 255.62,220.39 256.30,222.17 257.05,223.90 258.26,225.42 259.27,226.64 259.50,228.17 259.99,229.61 260.72,230.94 261.36,232.31 261.67,233.81 261.93,235.34 262.56,236.73 263.34,238.05 263.75,239.53 264.18,240.99 265.06,242.27 265.59,243.69 266.47,244.92 267.09,246.30 267.66,247.69 268.37,249.03 269.95,250.25 271.22,251.78 272.63,253.10 274.30,253.76 276.02,254.27 277.70,254.88" fill="none" stroke="#000" stroke-width="1.2" stroke-dasharray="1.3 1.3"/><polyline points="232.09,254.89 232.55,254.50 233.01,254.12 233.57,253.85 233.96,253.38 234.17,252.69 234.86,252.58 235.28,252.15 235.73,251.75 236.28,251.47 236.81,251.17 237.58,251.22 238.03,250.81 238.32,250.19 238.42,249.31 238.67,248.63 239.58,248.85 240.62,249.24 240.77,248.42 241.08,247.84 241.76,247.74 241.48,246.41 242.20,246.35 243.07,246.49 243.82,246.47 243.92,245.62 244.57,245.31 245.04,244.83 245.77,244.61 245.45,243.31 246.47,243.39 246.16,242.09 245.48,241.41 246.67,241.29 247.04,240.77 248.41,240.74 248.89,240.27 248.10,239.18 249.30,239.06 248.75,238.09 249.32,237.67 249.66,236.98 250.32,236.86 251.14,236.97 251.68,236.67 252.10,236.18 252.94,235.64 253.02,235.01 252.45,234.22 252.32,233.54 252.55,232.95 253.35,232.50 253.22,231.82 254.96,231.61 253.55,230.61 253.06,229.83 254.22,229.48 255.06,229.18 254.94,228.42 255.28,227.85 255.92,227.39 255.34,226.45 254.52,225.41 254.99,224.89 256.18,224.74 255.51,223.43 256.41,223.13 257.08,222.68 257.24,221.92 258.07,221.64 258.43,221.13 259.77,221.12 259.37,220.20 258.73,219.16 258.77,218.48 258.82,217.80 260.09,217.75 259.76,216.93 260.06,216.36 260.80,215.92 260.21,215.08 260.43,214.49 259.63,213.59 260.00,213.04 260.57,212.55 261.49,212.16 262.39,211.76 262.01,210.99 262.20,210.39 262.32,209.77 263.07,209.33 263.22,208.90 263.23,208.09 262.73,206.98 263.93,206.84 263.52,206.02 263.00,206.65 263.70,207.21 262.62,207.87 263.85,208.41 262.95,209.06 263.68,209.62 264.34,210.19 264.97,210.76 264.53,211.38 263.37,212.04 263.45,212.64 263.58,213.24 265.68,213.73 264.28,214.40 263.98,215.02 264.65,215.59 264.93,216.17 264.61,216.79 263.40,217.46 264.90,217.98 264.96,218.58 263.81,219.24 264.68,219.80 264.91,220.39 264.70,221.00 265.55,221.56 264.85,222.19 265.61,222.76 264.47,223.42 264.74,224.01 263.33,224.68 264.25,225.23 263.83,225.86 265.50,226.37 264.76,226.96 265.25,226.42 266.40,225.99 264.58,225.04 265.86,224.64 266.06,224.05 266.81,223.55 266.58,222.88 266.15,222.18 265.72,221.47 265.20,220.75 266.34,220.26 266.52,220.86 265.26,221.84 266.69,222.12 266.63,222.78 267.94,223.09 267.68,223.80 267.29,224.55 266.92,225.29 266.52,226.05 267.47,226.45 268.56,226.82 267.98,227.61 267.88,228.29 267.98,228.93 268.90,229.30 268.13,230.19 268.69,230.67 268.60,231.35 268.33,232.09 268.79,232.60 269.26,233.11 268.34,234.04 269.41,234.38 270.19,234.80 270.30,235.42 269.58,236.29 270.36,236.71 270.47,237.36 270.25,238.10 271.39,238.31 272.64,238.48 271.91,239.41 271.88,240.07 272.55,240.47 271.98,241.33 272.12,241.93 273.32,242.12 272.88,242.94 273.35,243.41 274.40,243.55 273.78,244.56 274.08,245.10 274.78,245.44 274.44,246.31 274.55,246.95 275.41,247.21 275.28,247.97 275.07,248.77 276.20,248.84 276.24,249.58 276.72,249.96 276.15,251.20 277.97,250.50 277.77,251.43 278.33,251.75 278.69,252.23 278.60,253.08 279.34,253.32 279.74,253.94 280.51,253.81 281.07,254.11 281.69,254.30 282.26,254.55 282.80,254.89 283.44,254.80 284.08,254.75 284.70,254.49 285.38,254.70 286.00,254.52 286.65,254.73 287.34,254.59 288.00,254.71 288.64,254.99 289.33,254.84 290.00,254.82" fill="none" stroke="#111" stroke-width="1.1" stroke-linejoin="miter"/><text x="302.9" y="186.7" font-size="8" font-weight="bold" font-family='"Liberation Serif", serif'>%: 28.3</text><text x="302.2" y="198.6" font-size="8" font-weight="bold" font-family='"Liberation Serif", serif'>MFI: 2</text></g>
<g><rect x="380.0" y="170.8" width="138.10" height="84.70" fill="none" stroke="#777" stroke-width="1.1"/><line x1="380.0" y1="173.8" x2="380.0" y2="255.5" stroke="#222" stroke-width="1.1" stroke-dasharray="1.2 2.4"/><line x1="377.0" y1="255.5" x2="518.1" y2="255.5" stroke="#555" stroke-width="1.1"/><line x1="518.1" y1="255.5" x2="518.1" y2="261.5" stroke="#777" stroke-width="1.1"/><line x1="390.39" y1="255.5" x2="390.39" y2="257.3" stroke="#555" stroke-width="0.9"/><line x1="396.47" y1="255.5" x2="396.47" y2="257.3" stroke="#555" stroke-width="0.9"/><line x1="400.79" y1="255.5" x2="400.79" y2="257.3" stroke="#555" stroke-width="0.9"/><line x1="404.13" y1="255.5" x2="404.13" y2="257.3" stroke="#555" stroke-width="0.9"/><line x1="406.87" y1="255.5" x2="406.87" y2="257.3" stroke="#555" stroke-width="0.9"/><line x1="409.18" y1="255.5" x2="409.18" y2="257.3" stroke="#555" stroke-width="0.9"/><line x1="411.18" y1="255.5" x2="411.18" y2="257.3" stroke="#555" stroke-width="0.9"/><line x1="412.95" y1="255.5" x2="412.95" y2="257.3" stroke="#555" stroke-width="0.9"/><line x1="424.92" y1="255.5" x2="424.92" y2="257.3" stroke="#555" stroke-width="0.9"/><line x1="431.00" y1="255.5" x2="431.00" y2="257.3" stroke="#555" stroke-width="0.9"/><line x1="435.31" y1="255.5" x2="435.31" y2="257.3" stroke="#555" stroke-width="0.9"/><line x1="438.66" y1="255.5" x2="438.66" y2="257.3" stroke="#555" stroke-width="0.9"/><line x1="441.39" y1="255.5" x2="441.39" y2="257.3" stroke="#555" stroke-width="0.9"/><line x1="443.70" y1="255.5" x2="443.70" y2="257.3" stroke="#555" stroke-width="0.9"/><line x1="445.70" y1="255.5" x2="445.70" y2="257.3" stroke="#555" stroke-width="0.9"/><line x1="447.47" y1="255.5" x2="447.47" y2="257.3" stroke="#555" stroke-width="0.9"/><line x1="459.44" y1="255.5" x2="459.44" y2="257.3" stroke="#555" stroke-width="0.9"/><line x1="465.52" y1="255.5" x2="465.52" y2="257.3" stroke="#555" stroke-width="0.9"/><line x1="469.84" y1="255.5" x2="469.84" y2="257.3" stroke="#555" stroke-width="0.9"/><line x1="473.18" y1="255.5" x2="473.18" y2="257.3" stroke="#555" stroke-width="0.9"/><line x1="475.92" y1="255.5" x2="475.92" y2="257.3" stroke="#555" stroke-width="0.9"/><line x1="478.23" y1="255.5" x2="478.23" y2="257.3" stroke="#555" stroke-width="0.9"/><line x1="480.23" y1="255.5" x2="480.23" y2="257.3" stroke="#555" stroke-width="0.9"/><line x1="482.00" y1="255.5" x2="482.00" y2="257.3" stroke="#555" stroke-width="0.9"/><line x1="493.97" y1="255.5" x2="493.97" y2="257.3" stroke="#555" stroke-width="0.9"/><line x1="500.05" y1="255.5" x2="500.05" y2="257.3" stroke="#555" stroke-width="0.9"/><line x1="504.36" y1="255.5" x2="504.36" y2="257.3" stroke="#555" stroke-width="0.9"/><line x1="507.71" y1="255.5" x2="507.71" y2="257.3" stroke="#555" stroke-width="0.9"/><line x1="510.44" y1="255.5" x2="510.44" y2="257.3" stroke="#555" stroke-width="0.9"/><line x1="512.75" y1="255.5" x2="512.75" y2="257.3" stroke="#555" stroke-width="0.9"/><line x1="514.75" y1="255.5" x2="514.75" y2="257.3" stroke="#555" stroke-width="0.9"/><line x1="516.52" y1="255.5" x2="516.52" y2="257.3" stroke="#555" stroke-width="0.9"/><line x1="414.52" y1="255.5" x2="414.52" y2="261.5" stroke="#666" stroke-width="1"/><text x="415.72" y="264.10" font-size="6.4" font-weight="bold" font-family='"Liberation Serif", serif'>10<tspan font-size="4.6" dy="-3" dx="0.6">0</tspan></text><line x1="449.05" y1="255.5" x2="449.05" y2="261.5" stroke="#666" stroke-width="1"/><text x="450.25" y="264.10" font-size="6.4" font-weight="bold" font-family='"Liberation Serif", serif'>10<tspan font-size="4.6" dy="-3" dx="1.2">1</tspan></text><line x1="483.58" y1="255.5" x2="483.58" y2="261.5" stroke="#666" stroke-width="1"/><text x="484.78" y="264.10" font-size="6.4" font-weight="bold" font-family='"Liberation Serif", serif'>10<tspan font-size="4.6" dy="-3" dx="1.2">2</tspan></text><line x1="376.5" y1="237.85" x2="380.0" y2="237.85" stroke="#555" stroke-width="1"/><line x1="376.5" y1="220.21" x2="380.0" y2="220.21" stroke="#555" stroke-width="1"/><line x1="376.5" y1="202.56" x2="380.0" y2="202.56" stroke="#555" stroke-width="1"/><line x1="376.5" y1="184.92" x2="380.0" y2="184.92" stroke="#555" stroke-width="1"/><text x="372.5" y="176.60000000000002" font-size="6" font-weight="bold" text-anchor="middle" font-family='"Liberation Serif", serif' transform="rotate(-90 372.5 176.60000000000002)">48</text><polyline points="386.40,254.90 387.70,254.09 389.01,253.29 390.35,252.53 391.62,251.60 392.87,250.29 394.02,248.91 394.98,247.34 395.87,246.10 396.35,244.67 396.78,243.20 397.47,241.87 398.10,240.50 398.78,239.15 399.69,237.91 400.31,236.54 401.26,235.32 401.74,233.85 402.28,232.42 402.69,230.95 402.82,229.39 403.46,228.00 404.09,226.61 404.75,225.22 404.92,223.67 405.66,222.32 406.31,220.93 406.50,219.39 407.06,217.97 407.75,216.59 407.78,215.00 408.46,213.61 408.40,212.00 408.98,210.54 409.69,209.10 409.87,207.54 409.93,206.11 411.10,207.15 411.95,208.39 413.17,210.11 414.19,211.93 414.76,213.59 415.10,215.32 415.68,216.97 416.34,218.61 416.76,220.31 417.33,222.01 418.02,223.66 418.49,225.39 419.32,226.98 420.57,227.95 421.73,228.86 422.52,230.48 423.12,232.16 423.74,233.84 424.63,235.43 424.72,237.26 425.37,238.92 425.80,240.65 426.95,242.15 427.02,243.99 427.73,245.64 428.50,247.26 429.05,248.96 429.46,250.74 430.89,251.81 432.00,253.20 434.03,254.04 436.00,255.00" fill="none" stroke="#000" stroke-width="1.2" stroke-dasharray="1.3 1.3"/><polyline points="394.90,255.02 395.51,254.92 396.12,254.82 396.71,254.66 397.34,254.73 397.94,254.57 398.56,254.56 399.16,254.41 399.79,254.47 400.39,254.30 401.00,254.25 401.65,254.24 402.24,253.91 402.86,253.64 403.50,253.43 404.15,253.26 404.84,253.18 405.47,252.95 406.09,252.68 406.91,252.61 407.25,252.10 407.27,251.27 408.34,251.49 407.89,250.19 409.45,250.90 408.79,249.39 408.91,248.66 409.45,248.57 410.78,248.65 410.46,247.64 411.51,247.54 412.18,247.19 411.78,246.12 412.19,245.59 412.93,245.28 413.31,244.74 413.17,243.82 412.81,242.75 413.56,242.57 413.90,242.06 414.77,241.98 415.25,241.58 415.30,240.84 415.40,240.15 415.92,239.78 416.74,239.65 417.39,239.41 417.85,239.00 418.50,238.76 418.99,238.38 418.66,237.34 419.67,237.39 419.04,236.10 419.98,236.09 420.22,235.51 419.68,234.31 421.46,234.97 422.54,235.08 422.65,234.39 421.61,232.78 421.10,231.60 422.81,232.20 423.36,231.88 423.28,231.06 423.46,230.45 423.20,229.51 424.36,229.61 423.79,228.44 424.23,228.02 425.25,228.02 425.44,228.09 425.64,228.67 425.63,229.31 425.55,229.98 425.96,230.50 427.06,230.82 426.98,231.48 427.17,232.07 427.79,232.52 427.77,233.17 427.70,233.77 427.12,232.87 427.02,232.14 428.07,231.80 428.95,231.40 429.52,230.90 430.03,230.38 429.80,229.60 429.69,228.98 429.71,228.17 429.69,227.32 429.14,225.95 430.54,226.46 431.69,226.73 432.02,226.21 433.39,226.01 433.70,225.46 433.50,224.75 432.97,223.93 434.08,223.64 434.42,223.11 432.93,221.97 433.70,221.57 434.52,221.20 433.64,220.26 435.21,220.13 434.53,219.26 434.91,218.81 434.70,218.01 435.18,217.56 435.54,217.05 436.60,216.90 436.03,215.91 435.83,215.49 435.96,216.13 436.80,216.40 436.82,217.09 438.14,217.11 438.68,217.54 438.54,218.32 439.39,218.58 439.41,219.28 439.26,220.13 439.63,220.69 439.85,221.30 440.27,221.83 439.67,222.75 440.07,223.30 441.76,223.36 440.39,224.57 439.70,225.51 440.16,226.04 440.18,226.73 441.48,226.83 441.00,228.14 441.64,228.38 442.47,228.45 442.19,229.04 442.71,229.54 443.72,229.89 443.63,230.57 443.43,231.29 443.97,231.78 443.85,232.47 444.59,232.90 445.66,233.23 444.24,234.31 444.41,234.91 444.56,235.52 446.09,235.72 445.68,236.49 444.84,237.44 445.82,237.72 446.64,238.07 444.97,239.32 445.99,239.59 446.12,240.19 446.69,240.62 446.12,241.48 446.79,241.87 447.69,242.18 447.91,242.75 447.84,243.41 446.93,244.42 447.89,244.75 448.47,245.22 448.00,246.10 448.04,246.79 449.23,247.03 449.26,247.71 449.08,248.49 449.89,248.87 449.56,249.70 449.94,250.25 451.05,250.44 450.70,251.36 451.16,251.82 451.65,252.25 452.42,252.52 452.22,253.35 452.80,253.73 452.83,254.44 453.10,255.07" fill="none" stroke="#111" stroke-width="1.1" stroke-linejoin="miter"/><text x="462.0" y="186.7" font-size="8" font-weight="bold" font-family='"Liberation Serif", serif'>%: 62.4</text><text x="461.3" y="198.6" font-size="8" font-weight="bold" font-family='"Liberation Serif", serif'>MFI: 5.2</text></g>
<g><rect x="58.8" y="289.4" width="136.80" height="85.30" fill="none" stroke="#777" stroke-width="1.1"/><line x1="58.8" y1="292.4" x2="58.8" y2="374.7" stroke="#222" stroke-width="1.1" stroke-dasharray="1.2 2.4"/><line x1="55.8" y1="374.7" x2="195.6" y2="374.7" stroke="#555" stroke-width="1.1"/><line x1="195.6" y1="374.7" x2="195.6" y2="380.7" stroke="#777" stroke-width="1.1"/><line x1="69.10" y1="374.7" x2="69.10" y2="376.5" stroke="#555" stroke-width="0.9"/><line x1="75.12" y1="374.7" x2="75.12" y2="376.5" stroke="#555" stroke-width="0.9"/><line x1="79.39" y1="374.7" x2="79.39" y2="376.5" stroke="#555" stroke-width="0.9"/><line x1="82.70" y1="374.7" x2="82.70" y2="376.5" stroke="#555" stroke-width="0.9"/><line x1="85.41" y1="374.7" x2="85.41" y2="376.5" stroke="#555" stroke-width="0.9"/><line x1="87.70" y1="374.7" x2="87.70" y2="376.5" stroke="#555" stroke-width="0.9"/><line x1="89.69" y1="374.7" x2="89.69" y2="376.5" stroke="#555" stroke-width="0.9"/><line x1="91.44" y1="374.7" x2="91.44" y2="376.5" stroke="#555" stroke-width="0.9"/><line x1="103.30" y1="374.7" x2="103.30" y2="376.5" stroke="#555" stroke-width="0.9"/><line x1="109.32" y1="374.7" x2="109.32" y2="376.5" stroke="#555" stroke-width="0.9"/><line x1="113.59" y1="374.7" x2="113.59" y2="376.5" stroke="#555" stroke-width="0.9"/><line x1="116.90" y1="374.7" x2="116.90" y2="376.5" stroke="#555" stroke-width="0.9"/><line x1="119.61" y1="374.7" x2="119.61" y2="376.5" stroke="#555" stroke-width="0.9"/><line x1="121.90" y1="374.7" x2="121.90" y2="376.5" stroke="#555" stroke-width="0.9"/><line x1="123.89" y1="374.7" x2="123.89" y2="376.5" stroke="#555" stroke-width="0.9"/><line x1="125.64" y1="374.7" x2="125.64" y2="376.5" stroke="#555" stroke-width="0.9"/><line x1="137.50" y1="374.7" x2="137.50" y2="376.5" stroke="#555" stroke-width="0.9"/><line x1="143.52" y1="374.7" x2="143.52" y2="376.5" stroke="#555" stroke-width="0.9"/><line x1="147.79" y1="374.7" x2="147.79" y2="376.5" stroke="#555" stroke-width="0.9"/><line x1="151.10" y1="374.7" x2="151.10" y2="376.5" stroke="#555" stroke-width="0.9"/><line x1="153.81" y1="374.7" x2="153.81" y2="376.5" stroke="#555" stroke-width="0.9"/><line x1="156.10" y1="374.7" x2="156.10" y2="376.5" stroke="#555" stroke-width="0.9"/><line x1="158.09" y1="374.7" x2="158.09" y2="376.5" stroke="#555" stroke-width="0.9"/><line x1="159.84" y1="374.7" x2="159.84" y2="376.5" stroke="#555" stroke-width="0.9"/><line x1="171.70" y1="374.7" x2="171.70" y2="376.5" stroke="#555" stroke-width="0.9"/><line x1="177.72" y1="374.7" x2="177.72" y2="376.5" stroke="#555" stroke-width="0.9"/><line x1="181.99" y1="374.7" x2="181.99" y2="376.5" stroke="#555" stroke-width="0.9"/><line x1="185.30" y1="374.7" x2="185.30" y2="376.5" stroke="#555" stroke-width="0.9"/><line x1="188.01" y1="374.7" x2="188.01" y2="376.5" stroke="#555" stroke-width="0.9"/><line x1="190.30" y1="374.7" x2="190.30" y2="376.5" stroke="#555" stroke-width="0.9"/><line x1="192.29" y1="374.7" x2="192.29" y2="376.5" stroke="#555" stroke-width="0.9"/><line x1="194.04" y1="374.7" x2="194.04" y2="376.5" stroke="#555" stroke-width="0.9"/><line x1="93.00" y1="374.7" x2="93.00" y2="380.7" stroke="#666" stroke-width="1"/><text x="94.20" y="383.30" font-size="6.4" font-weight="bold" font-family='"Liberation Serif", serif'>10<tspan font-size="4.6" dy="-3" dx="0.6">0</tspan></text><line x1="127.20" y1="374.7" x2="127.20" y2="380.7" stroke="#666" stroke-width="1"/><text x="128.40" y="383.30" font-size="6.4" font-weight="bold" font-family='"Liberation Serif", serif'>10<tspan font-size="4.6" dy="-3" dx="1.2">1</tspan></text><line x1="161.40" y1="374.7" x2="161.40" y2="380.7" stroke="#666" stroke-width="1"/><text x="162.60" y="383.30" font-size="6.4" font-weight="bold" font-family='"Liberation Serif", serif'>10<tspan font-size="4.6" dy="-3" dx="1.2">2</tspan></text><line x1="55.3" y1="356.93" x2="58.8" y2="356.93" stroke="#555" stroke-width="1"/><line x1="55.3" y1="339.16" x2="58.8" y2="339.16" stroke="#555" stroke-width="1"/><line x1="55.3" y1="321.39" x2="58.8" y2="321.39" stroke="#555" stroke-width="1"/><line x1="55.3" y1="303.62" x2="58.8" y2="303.62" stroke="#555" stroke-width="1"/><text x="51.3" y="295.2" font-size="6" font-weight="bold" text-anchor="middle" font-family='"Liberation Serif", serif' transform="rotate(-90 51.3 295.2)">48</text><polyline points="59.24,365.85 60.46,364.70 61.67,363.54 62.68,362.22 63.47,360.92 64.58,359.83 65.20,358.43 66.07,357.19 66.65,355.78 67.47,354.49 68.26,353.18 69.07,351.89 69.79,350.60 70.36,349.16 71.12,347.84 71.91,346.55 72.74,345.32 73.69,343.68 74.53,341.98 75.24,340.25 75.77,338.57 76.88,337.09 77.03,335.28 78.02,333.72 78.20,331.89 78.59,330.13 79.78,327.65 80.19,329.13 80.56,330.62 81.06,332.07 81.47,333.56 81.76,335.27 82.02,336.98 82.45,338.66 82.77,340.36 83.30,342.03 83.43,343.81 84.56,345.33 84.91,347.03 85.33,348.74 85.90,350.41 86.38,352.11 86.97,353.82 87.40,355.59 88.18,357.23 88.88,358.91 89.69,360.51 90.22,362.22 90.88,363.89 91.40,365.60 92.32,367.00 93.12,368.48 94.06,369.86 94.99,371.06 95.76,372.32 96.99,373.25 98.20,374.20" fill="none" stroke="#000" stroke-width="1.2" stroke-dasharray="1.3 1.3"/><polyline points="67.01,374.23 67.62,373.94 68.28,373.77 68.88,373.46 69.23,372.99 69.89,372.63 70.15,371.96 70.95,371.70 71.68,371.39 72.57,371.20 72.64,370.29 72.51,369.47 73.16,369.13 73.58,368.65 72.51,367.27 73.27,367.00 73.43,366.36 74.75,366.43 74.97,365.78 75.34,365.27 75.95,364.89 76.03,364.23 75.13,363.09 75.50,362.58 76.59,362.43 76.44,361.66 76.43,360.96 77.56,360.77 77.95,360.27 77.53,359.47 77.56,358.84 78.52,358.55 78.13,357.76 77.88,357.03 78.89,356.75 79.76,356.43 78.54,355.34 78.68,354.75 79.71,354.48 79.74,353.84 80.31,353.36 80.49,352.76 81.89,352.54 79.80,351.23 80.71,350.86 80.27,350.06 79.53,349.17 80.13,348.70 80.63,348.20 81.80,347.91 81.62,347.19 81.25,346.42 81.25,345.76 82.07,345.37 82.65,344.85 81.88,344.02 82.55,343.52 82.82,342.94 82.74,342.26 82.76,341.62 82.90,341.00 82.87,340.34 82.78,339.66 83.32,339.14 83.50,338.55 83.51,337.94 83.07,337.25 84.33,336.82 84.13,336.17 86.28,335.89 86.69,335.33 85.06,334.46 86.16,334.01 84.48,333.12 83.56,332.36 83.94,331.80 84.46,331.26 85.02,330.73 86.44,330.33 84.95,329.47 85.20,328.89 86.01,328.40 85.26,327.85 84.86,328.82 85.36,329.24 85.33,329.98 85.90,330.36 86.72,330.57 87.20,331.01 88.34,331.03 88.17,331.85 88.38,332.44 88.88,332.82 89.38,333.20 89.74,333.69 89.24,334.81 90.10,334.92 90.39,335.38 90.49,336.04 91.91,336.20 91.76,336.95 91.84,337.61 93.43,337.71 92.32,338.82 92.77,339.35 92.63,340.09 92.18,340.96 92.95,341.36 93.46,341.79 93.57,342.44 93.20,343.37 94.54,343.31 95.15,343.68 95.02,344.47 95.41,344.96 94.86,345.99 95.57,346.29 95.89,346.82 96.42,347.23 97.47,347.26 96.84,348.41 97.13,348.96 97.62,349.36 98.39,349.59 97.82,350.70 97.76,351.48 98.13,351.97 99.05,352.09 100.10,352.13 100.41,352.59 101.08,352.82 101.14,353.54 100.30,355.00 101.72,354.62 101.28,355.75 102.53,355.51 102.59,356.23 103.80,356.02 103.61,356.96 104.60,357.03 104.38,358.05 104.80,358.57 104.66,359.53 104.61,360.41 105.88,360.26 106.05,360.99 106.73,361.23 107.34,361.44 107.63,362.06 108.43,362.03 108.35,363.14 109.15,363.10 109.20,364.04 109.99,364.02 110.48,364.38 111.22,364.34 111.95,364.32 112.22,365.05 112.31,366.09 113.47,365.34 113.92,365.77 114.40,366.30 115.03,366.52 115.22,367.18 114.94,368.31 115.30,368.80 117.88,367.07 117.67,368.13 117.36,369.29 117.74,369.75 117.74,370.73 118.61,370.81 118.84,371.54 119.50,371.83 120.30,371.98 120.53,372.71 121.01,373.19 121.50,373.64 122.14,373.85 122.70,374.24" fill="none" stroke="#111" stroke-width="1.1" stroke-linejoin="miter"/><text x="140.1" y="305.6" font-size="8" font-weight="bold" font-family='"Liberation Serif", serif'>%: 57.6</text><text x="139.1" y="317.9" font-size="8" font-weight="bold" font-family='"Liberation Serif", serif'>MFI: 1.71</text></g>
<g><rect x="222.3" y="289.7" width="136.60" height="85.10" fill="none" stroke="#777" stroke-width="1.1"/><line x1="222.3" y1="292.7" x2="222.3" y2="374.8" stroke="#222" stroke-width="1.1" stroke-dasharray="1.2 2.4"/><line x1="219.3" y1="374.8" x2="358.9" y2="374.8" stroke="#555" stroke-width="1.1"/><line x1="358.9" y1="374.8" x2="358.9" y2="380.8" stroke="#777" stroke-width="1.1"/><line x1="232.58" y1="374.8" x2="232.58" y2="376.6" stroke="#555" stroke-width="0.9"/><line x1="238.59" y1="374.8" x2="238.59" y2="376.6" stroke="#555" stroke-width="0.9"/><line x1="242.86" y1="374.8" x2="242.86" y2="376.6" stroke="#555" stroke-width="0.9"/><line x1="246.17" y1="374.8" x2="246.17" y2="376.6" stroke="#555" stroke-width="0.9"/><line x1="248.87" y1="374.8" x2="248.87" y2="376.6" stroke="#555" stroke-width="0.9"/><line x1="251.16" y1="374.8" x2="251.16" y2="376.6" stroke="#555" stroke-width="0.9"/><line x1="253.14" y1="374.8" x2="253.14" y2="376.6" stroke="#555" stroke-width="0.9"/><line x1="254.89" y1="374.8" x2="254.89" y2="376.6" stroke="#555" stroke-width="0.9"/><line x1="266.73" y1="374.8" x2="266.73" y2="376.6" stroke="#555" stroke-width="0.9"/><line x1="272.74" y1="374.8" x2="272.74" y2="376.6" stroke="#555" stroke-width="0.9"/><line x1="277.01" y1="374.8" x2="277.01" y2="376.6" stroke="#555" stroke-width="0.9"/><line x1="280.32" y1="374.8" x2="280.32" y2="376.6" stroke="#555" stroke-width="0.9"/><line x1="283.02" y1="374.8" x2="283.02" y2="376.6" stroke="#555" stroke-width="0.9"/><line x1="285.31" y1="374.8" x2="285.31" y2="376.6" stroke="#555" stroke-width="0.9"/><line x1="287.29" y1="374.8" x2="287.29" y2="376.6" stroke="#555" stroke-width="0.9"/><line x1="289.04" y1="374.8" x2="289.04" y2="376.6" stroke="#555" stroke-width="0.9"/><line x1="300.88" y1="374.8" x2="300.88" y2="376.6" stroke="#555" stroke-width="0.9"/><line x1="306.89" y1="374.8" x2="306.89" y2="376.6" stroke="#555" stroke-width="0.9"/><line x1="311.16" y1="374.8" x2="311.16" y2="376.6" stroke="#555" stroke-width="0.9"/><line x1="314.47" y1="374.8" x2="314.47" y2="376.6" stroke="#555" stroke-width="0.9"/><line x1="317.17" y1="374.8" x2="317.17" y2="376.6" stroke="#555" stroke-width="0.9"/><line x1="319.46" y1="374.8" x2="319.46" y2="376.6" stroke="#555" stroke-width="0.9"/><line x1="321.44" y1="374.8" x2="321.44" y2="376.6" stroke="#555" stroke-width="0.9"/><line x1="323.19" y1="374.8" x2="323.19" y2="376.6" stroke="#555" stroke-width="0.9"/><line x1="335.03" y1="374.8" x2="335.03" y2="376.6" stroke="#555" stroke-width="0.9"/><line x1="341.04" y1="374.8" x2="341.04" y2="376.6" stroke="#555" stroke-width="0.9"/><line x1="345.31" y1="374.8" x2="345.31" y2="376.6" stroke="#555" stroke-width="0.9"/><line x1="348.62" y1="374.8" x2="348.62" y2="376.6" stroke="#555" stroke-width="0.9"/><line x1="351.32" y1="374.8" x2="351.32" y2="376.6" stroke="#555" stroke-width="0.9"/><line x1="353.61" y1="374.8" x2="353.61" y2="376.6" stroke="#555" stroke-width="0.9"/><line x1="355.59" y1="374.8" x2="355.59" y2="376.6" stroke="#555" stroke-width="0.9"/><line x1="357.34" y1="374.8" x2="357.34" y2="376.6" stroke="#555" stroke-width="0.9"/><line x1="256.45" y1="374.8" x2="256.45" y2="380.8" stroke="#666" stroke-width="1"/><text x="257.65" y="383.40" font-size="6.4" font-weight="bold" font-family='"Liberation Serif", serif'>10<tspan font-size="4.6" dy="-3" dx="0.6">0</tspan></text><line x1="290.60" y1="374.8" x2="290.60" y2="380.8" stroke="#666" stroke-width="1"/><text x="291.80" y="383.40" font-size="6.4" font-weight="bold" font-family='"Liberation Serif", serif'>10<tspan font-size="4.6" dy="-3" dx="1.2">1</tspan></text><line x1="324.75" y1="374.8" x2="324.75" y2="380.8" stroke="#666" stroke-width="1"/><text x="325.95" y="383.40" font-size="6.4" font-weight="bold" font-family='"Liberation Serif", serif'>10<tspan font-size="4.6" dy="-3" dx="1.2">2</tspan></text><line x1="218.8" y1="357.07" x2="222.3" y2="357.07" stroke="#555" stroke-width="1"/><line x1="218.8" y1="339.34" x2="222.3" y2="339.34" stroke="#555" stroke-width="1"/><line x1="218.8" y1="321.61" x2="222.3" y2="321.61" stroke="#555" stroke-width="1"/><line x1="218.8" y1="303.88" x2="222.3" y2="303.88" stroke="#555" stroke-width="1"/><text x="214.8" y="295.5" font-size="6" font-weight="bold" text-anchor="middle" font-family='"Liberation Serif", serif' transform="rotate(-90 214.8 295.5)">48</text><polyline points="222.25,371.36 223.60,370.09 225.05,369.07 226.44,367.70 228.15,366.58 228.55,364.77 229.72,363.58 230.92,362.41 232.03,360.90 233.05,359.32 234.28,357.84 234.98,356.24 235.50,354.55 236.56,353.13 237.29,351.55 237.87,349.88 238.76,348.38 239.64,346.86 240.55,345.02 241.14,343.15 242.63,341.64 244.85,341.06 245.56,342.92 246.54,344.66 246.90,346.73 248.01,347.87 248.86,349.15 249.71,350.43 250.39,351.84 251.10,353.22 251.97,354.52 253.31,356.15 254.38,357.94 255.35,359.32 256.46,360.60 257.34,362.06 258.84,363.62 260.40,365.10 261.55,366.11 262.50,367.33 263.78,368.19 265.28,369.36 266.78,370.53 268.38,371.46 269.88,372.52 272.00,374.31" fill="none" stroke="#000" stroke-width="1.2" stroke-dasharray="1.3 1.3"/><polyline points="222.66,371.68 223.03,371.14 223.57,370.73 223.63,369.95 223.50,369.02 224.03,368.61 224.60,368.16 224.59,367.07 224.66,366.09 225.30,365.87 226.38,366.24 226.82,365.76 227.08,365.43 228.48,365.74 228.53,364.99 228.60,364.25 229.45,364.13 229.24,363.17 230.01,362.98 230.25,362.38 230.77,362.02 231.30,361.62 231.24,360.82 232.04,360.60 232.09,359.88 232.89,359.66 233.52,359.33 232.84,358.14 233.13,357.58 234.39,357.60 234.97,357.19 236.08,357.05 235.96,356.27 235.06,355.09 236.26,355.00 237.19,354.76 236.51,353.70 236.66,353.06 236.22,352.12 237.07,351.85 237.45,351.32 237.29,350.52 238.31,350.29 238.47,349.63 239.32,349.33 239.16,348.52 237.87,347.16 238.99,346.98 239.85,346.63 239.67,345.82 240.15,345.26 239.58,344.29 240.54,343.92 240.68,343.22 239.20,342.35 241.05,341.97 241.69,341.43 241.61,340.79 241.22,340.10 241.98,339.58 242.11,338.96 241.76,338.28 241.97,337.68 241.40,336.97 242.01,336.42 241.73,335.75 243.53,335.37 243.71,334.76 243.63,334.12 241.80,333.37 241.98,333.96 241.51,334.64 242.63,335.11 241.80,335.83 242.93,336.31 243.83,336.81 242.27,337.62 241.90,338.29 242.64,338.81 242.09,339.50 242.45,340.07 244.08,340.48 244.33,341.06 243.16,341.41 244.26,342.02 245.14,342.27 244.69,340.36 246.17,340.05 245.19,341.43 246.16,341.51 246.69,341.87 246.29,342.86 246.80,343.25 246.99,343.84 247.17,344.44 248.61,344.20 248.30,345.14 248.23,345.95 249.86,345.54 249.23,346.75 249.58,347.25 250.62,347.26 250.44,348.14 250.78,348.69 251.80,348.68 252.14,349.25 251.52,350.61 252.26,350.84 253.30,350.82 253.90,351.25 253.46,352.32 254.00,352.78 254.68,353.15 255.07,353.70 255.20,354.41 255.51,355.01 255.33,356.17 256.17,356.33 257.05,356.45 258.17,356.33 258.38,357.12 258.22,358.28 258.06,359.44 259.16,359.34 260.20,359.30 260.61,359.89 260.72,360.71 261.01,361.28 262.26,361.12 261.73,362.30 261.55,363.21 262.19,363.52 263.02,363.68 263.25,364.28 264.09,364.41 264.64,364.71 264.22,366.00 265.15,365.92 265.74,366.19 266.74,366.05 266.09,367.56 267.39,366.92 267.81,367.37 268.16,367.93 269.15,367.53 270.21,367.01 269.82,368.68 269.53,370.08 269.89,370.67 270.46,370.98 271.71,370.44 272.13,370.93 272.83,371.21 273.15,371.76 273.53,372.26 273.98,372.69 274.28,373.26 274.45,373.95 275.00,374.39" fill="none" stroke="#111" stroke-width="1.1" stroke-linejoin="miter"/><text x="303.2" y="305.6" font-size="8" font-weight="bold" font-family='"Liberation Serif", serif'>%: 5.1</text><text x="302.5" y="317.6" font-size="8" font-weight="bold" font-family='"Liberation Serif", serif'>MFI: 0.82</text></g>
<g><rect x="381.0" y="290.2" width="135.60" height="84.50" fill="none" stroke="#777" stroke-width="1.1"/><line x1="381.0" y1="293.2" x2="381.0" y2="374.7" stroke="#222" stroke-width="1.1" stroke-dasharray="1.2 2.4"/><line x1="378.0" y1="374.7" x2="516.6" y2="374.7" stroke="#555" stroke-width="1.1"/><line x1="516.6" y1="374.7" x2="516.6" y2="380.7" stroke="#777" stroke-width="1.1"/><line x1="391.20" y1="374.7" x2="391.20" y2="376.5" stroke="#555" stroke-width="0.9"/><line x1="397.17" y1="374.7" x2="397.17" y2="376.5" stroke="#555" stroke-width="0.9"/><line x1="401.41" y1="374.7" x2="401.41" y2="376.5" stroke="#555" stroke-width="0.9"/><line x1="404.70" y1="374.7" x2="404.70" y2="376.5" stroke="#555" stroke-width="0.9"/><line x1="407.38" y1="374.7" x2="407.38" y2="376.5" stroke="#555" stroke-width="0.9"/><line x1="409.65" y1="374.7" x2="409.65" y2="376.5" stroke="#555" stroke-width="0.9"/><line x1="411.61" y1="374.7" x2="411.61" y2="376.5" stroke="#555" stroke-width="0.9"/><line x1="413.35" y1="374.7" x2="413.35" y2="376.5" stroke="#555" stroke-width="0.9"/><line x1="425.10" y1="374.7" x2="425.10" y2="376.5" stroke="#555" stroke-width="0.9"/><line x1="431.07" y1="374.7" x2="431.07" y2="376.5" stroke="#555" stroke-width="0.9"/><line x1="435.31" y1="374.7" x2="435.31" y2="376.5" stroke="#555" stroke-width="0.9"/><line x1="438.60" y1="374.7" x2="438.60" y2="376.5" stroke="#555" stroke-width="0.9"/><line x1="441.28" y1="374.7" x2="441.28" y2="376.5" stroke="#555" stroke-width="0.9"/><line x1="443.55" y1="374.7" x2="443.55" y2="376.5" stroke="#555" stroke-width="0.9"/><line x1="445.51" y1="374.7" x2="445.51" y2="376.5" stroke="#555" stroke-width="0.9"/><line x1="447.25" y1="374.7" x2="447.25" y2="376.5" stroke="#555" stroke-width="0.9"/><line x1="459.00" y1="374.7" x2="459.00" y2="376.5" stroke="#555" stroke-width="0.9"/><line x1="464.97" y1="374.7" x2="464.97" y2="376.5" stroke="#555" stroke-width="0.9"/><line x1="469.21" y1="374.7" x2="469.21" y2="376.5" stroke="#555" stroke-width="0.9"/><line x1="472.50" y1="374.7" x2="472.50" y2="376.5" stroke="#555" stroke-width="0.9"/><line x1="475.18" y1="374.7" x2="475.18" y2="376.5" stroke="#555" stroke-width="0.9"/><line x1="477.45" y1="374.7" x2="477.45" y2="376.5" stroke="#555" stroke-width="0.9"/><line x1="479.41" y1="374.7" x2="479.41" y2="376.5" stroke="#555" stroke-width="0.9"/><line x1="481.15" y1="374.7" x2="481.15" y2="376.5" stroke="#555" stroke-width="0.9"/><line x1="492.90" y1="374.7" x2="492.90" y2="376.5" stroke="#555" stroke-width="0.9"/><line x1="498.87" y1="374.7" x2="498.87" y2="376.5" stroke="#555" stroke-width="0.9"/><line x1="503.11" y1="374.7" x2="503.11" y2="376.5" stroke="#555" stroke-width="0.9"/><line x1="506.40" y1="374.7" x2="506.40" y2="376.5" stroke="#555" stroke-width="0.9"/><line x1="509.08" y1="374.7" x2="509.08" y2="376.5" stroke="#555" stroke-width="0.9"/><line x1="511.35" y1="374.7" x2="511.35" y2="376.5" stroke="#555" stroke-width="0.9"/><line x1="513.31" y1="374.7" x2="513.31" y2="376.5" stroke="#555" stroke-width="0.9"/><line x1="515.05" y1="374.7" x2="515.05" y2="376.5" stroke="#555" stroke-width="0.9"/><line x1="414.90" y1="374.7" x2="414.90" y2="380.7" stroke="#666" stroke-width="1"/><text x="416.10" y="383.30" font-size="6.4" font-weight="bold" font-family='"Liberation Serif", serif'>10<tspan font-size="4.6" dy="-3" dx="0.6">0</tspan></text><line x1="448.80" y1="374.7" x2="448.80" y2="380.7" stroke="#666" stroke-width="1"/><text x="450.00" y="383.30" font-size="6.4" font-weight="bold" font-family='"Liberation Serif", serif'>10<tspan font-size="4.6" dy="-3" dx="1.2">1</tspan></text><line x1="482.70" y1="374.7" x2="482.70" y2="380.7" stroke="#666" stroke-width="1"/><text x="483.90" y="383.30" font-size="6.4" font-weight="bold" font-family='"Liberation Serif", serif'>10<tspan font-size="4.6" dy="-3" dx="1.2">2</tspan></text><line x1="377.5" y1="357.10" x2="381.0" y2="357.10" stroke="#555" stroke-width="1"/><line x1="377.5" y1="339.49" x2="381.0" y2="339.49" stroke="#555" stroke-width="1"/><line x1="377.5" y1="321.89" x2="381.0" y2="321.89" stroke="#555" stroke-width="1"/><line x1="377.5" y1="304.28" x2="381.0" y2="304.28" stroke="#555" stroke-width="1"/><text x="373.5" y="296.0" font-size="6" font-weight="bold" text-anchor="middle" font-family='"Liberation Serif", serif' transform="rotate(-90 373.5 296.0)">48</text><polyline points="381.24,371.42 382.56,370.44 383.79,369.35 385.07,368.39 386.33,367.13 387.42,365.73 388.40,364.23 389.73,363.07 390.09,361.59 390.63,360.18 391.38,358.86 392.24,357.60 392.79,356.20 393.48,354.68 394.21,353.18 394.80,351.63 395.23,350.02 396.18,348.57 397.33,347.23 397.67,345.50 398.38,344.16 398.95,342.75 399.54,341.30 401.02,340.05 402.04,338.55 402.96,340.22 404.29,341.65 406.50,343.30 408.04,344.06 409.28,345.31 409.68,346.88 410.40,348.33 410.79,349.90 411.05,351.53 411.43,353.12 412.19,354.57 412.73,356.13 413.35,357.66 413.72,359.29 414.29,360.87 415.42,362.34 416.35,363.94 417.34,365.56 419.18,366.78 420.55,368.40 422.06,369.29 423.61,370.07 425.17,370.88 426.73,371.32 428.29,371.73 429.81,372.28 431.34,372.79 432.87,373.28 434.40,373.79 435.92,373.98 437.45,374.14 438.98,374.32 440.50,374.51" fill="none" stroke="#000" stroke-width="1.2" stroke-dasharray="1.3 1.3"/><polyline points="381.31,374.33 381.96,374.23 382.57,373.87 383.24,373.83 383.91,373.81 384.51,373.46 385.17,373.41 385.76,373.19 386.44,373.22 386.98,372.83 387.56,372.59 388.13,372.44 388.49,371.84 389.53,371.87 389.81,371.21 390.22,370.67 390.37,369.94 391.16,369.60 390.49,368.58 391.17,368.19 391.54,367.66 391.86,367.09 391.84,366.28 392.82,366.18 392.47,364.95 393.16,364.61 393.73,364.16 393.78,363.32 394.03,362.72 395.45,363.01 396.28,362.86 395.72,361.64 396.69,361.59 396.90,360.93 398.53,361.17 397.56,359.72 397.74,359.02 398.49,358.79 399.06,358.29 399.37,357.54 398.13,357.41 398.68,357.87 399.22,358.33 400.24,358.65 401.10,360.56 401.58,359.49 401.49,357.93 401.69,357.12 402.53,356.89 402.70,357.37 403.35,357.81 404.90,357.80 405.20,358.43 405.88,358.87 403.34,359.48 405.20,359.35 406.01,358.93 406.23,358.35 405.52,357.50 406.47,357.12 406.47,356.47 406.23,355.76 405.90,355.02 406.82,354.72 406.77,353.67 408.02,353.92 408.36,353.05 409.27,353.44 409.43,354.04 409.02,354.82 407.83,355.82 408.85,356.17 409.33,356.68 409.69,357.23 410.45,357.65 410.13,358.72 410.49,358.13 411.19,357.77 410.84,356.72 411.24,356.30 411.44,357.24 412.96,356.17 413.22,357.03 413.73,357.95 414.42,357.33 414.34,357.53 415.16,357.73 414.98,358.67 415.86,358.82 416.71,358.99 417.40,359.28 416.60,359.42 417.02,358.87 417.43,358.32 418.31,358.07 418.92,357.93 419.43,358.31 420.18,358.01 420.40,359.24 421.20,358.20 421.65,357.66 422.54,358.37 423.02,357.87 423.81,358.11 424.50,357.51 425.20,356.72 425.95,357.32 428.01,358.21 427.20,356.40 428.19,356.39 427.96,354.92 428.62,354.24 430.08,354.88 429.68,353.48 430.51,353.31 431.64,353.42 432.96,353.66 432.59,352.31 433.15,351.36 432.92,352.10 434.12,352.26 433.03,353.36 433.55,353.79 433.72,354.38 433.78,355.00 434.11,355.69 434.61,356.19 435.49,356.31 435.35,357.28 435.46,358.06 435.32,359.01 437.64,358.25 436.77,359.89 438.45,359.31 438.06,360.68 440.05,360.12 440.81,360.44 439.97,361.81 439.80,362.74 440.24,363.28 440.28,364.10 441.32,364.23 442.55,364.24 442.40,365.26 442.64,365.90 442.65,366.66 442.78,367.37 443.59,367.74 443.12,368.83 444.26,368.89 445.81,368.67 445.38,369.82 445.77,370.51 445.21,371.55 445.63,372.09 445.70,372.80 446.39,373.20 446.61,373.97 447.39,374.08 448.00,374.51" fill="none" stroke="#111" stroke-width="1.1" stroke-linejoin="miter"/><text x="460.1" y="305.6" font-size="8" font-weight="bold" font-family='"Liberation Serif", serif'>%: 36.8</text><text x="459.1" y="317.6" font-size="8" font-weight="bold" font-family='"Liberation Serif", serif'>MFI: 3.61</text></g>
</g></svg></body></html>
